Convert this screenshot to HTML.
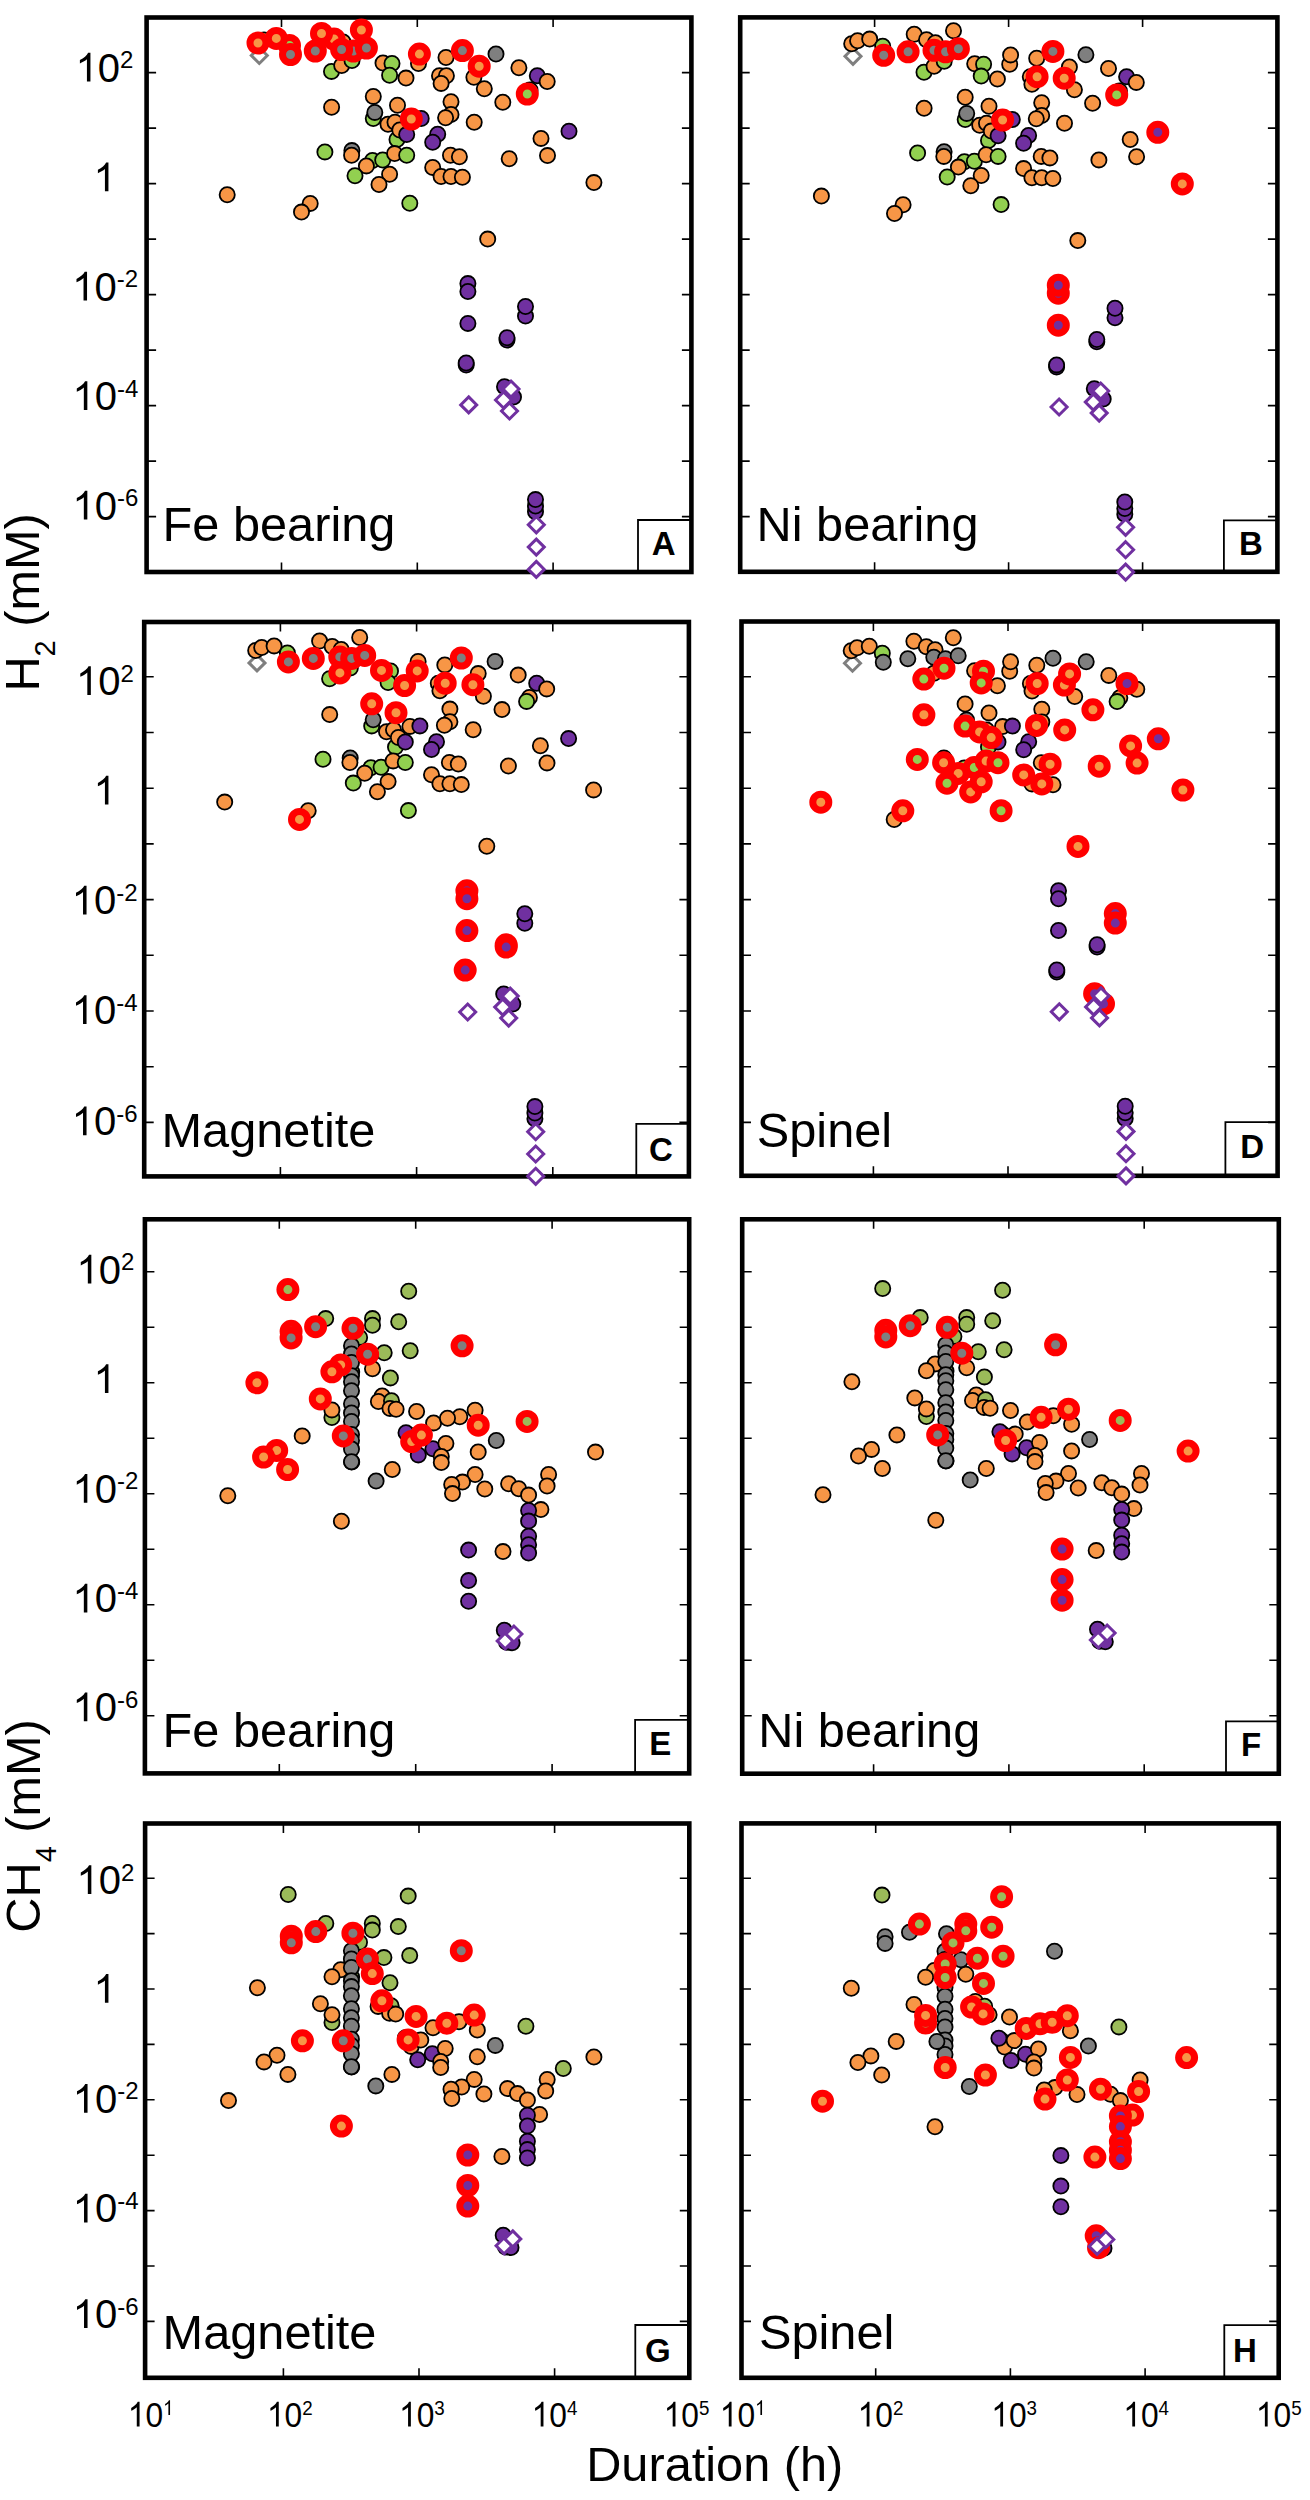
<!DOCTYPE html>
<html><head><meta charset="utf-8"><style>
html,body{margin:0;padding:0;background:#fff;}
svg{display:block;}
</style></head><body>
<svg width="1310" height="2500" viewBox="0 0 1310 2500" font-family='"Liberation Sans", sans-serif' fill="#000">
<rect width="1310" height="2500" fill="#fff"/>
<rect x="146.6" y="17.5" width="544.8" height="554.5" fill="none" stroke="#000" stroke-width="4.6"/>
<path d="M281.5 17.5v9.5M281.5 572.0v-9.5M417.3 17.5v9.5M417.3 572.0v-9.5M553.1 17.5v9.5M553.1 572.0v-9.5M146.6 516.6h9.5M691.4 516.6h-9.5M146.6 461.1h9.5M691.4 461.1h-9.5M146.6 405.6h9.5M691.4 405.6h-9.5M146.6 350.1h9.5M691.4 350.1h-9.5M146.6 294.6h9.5M691.4 294.6h-9.5M146.6 239.1h9.5M691.4 239.1h-9.5M146.6 183.6h9.5M691.4 183.6h-9.5M146.6 128.1h9.5M691.4 128.1h-9.5M146.6 72.6h9.5M691.4 72.6h-9.5" stroke="#000" stroke-width="1.6" fill="none"/>
<path d="M638.0 572.0V520.0H691.4" stroke="#000" stroke-width="1.8" fill="none"/>
<text x="663.7" y="555.3" font-size="33" font-weight="bold" text-anchor="middle">A</text>
<rect x="740.2" y="17.4" width="537.2" height="554.4" fill="none" stroke="#000" stroke-width="4.6"/>
<path d="M874.6 17.4v9.5M874.6 571.8v-9.5M1008.6 17.4v9.5M1008.6 571.8v-9.5M1142.6 17.4v9.5M1142.6 571.8v-9.5M740.2 516.6h9.5M1277.4 516.6h-9.5M740.2 461.1h9.5M1277.4 461.1h-9.5M740.2 405.6h9.5M1277.4 405.6h-9.5M740.2 350.1h9.5M1277.4 350.1h-9.5M740.2 294.6h9.5M1277.4 294.6h-9.5M740.2 239.1h9.5M1277.4 239.1h-9.5M740.2 183.6h9.5M1277.4 183.6h-9.5M740.2 128.1h9.5M1277.4 128.1h-9.5M740.2 72.6h9.5M1277.4 72.6h-9.5" stroke="#000" stroke-width="1.6" fill="none"/>
<path d="M1223.9 571.8V520.3H1277.4" stroke="#000" stroke-width="1.8" fill="none"/>
<text x="1251.0" y="555.0" font-size="33" font-weight="bold" text-anchor="middle">B</text>
<rect x="144.2" y="622.0" width="544.7" height="554.4" fill="none" stroke="#000" stroke-width="4.6"/>
<path d="M280.4 622.0v9.5M280.4 1176.4v-9.5M416.6 622.0v9.5M416.6 1176.4v-9.5M552.8 622.0v9.5M552.8 1176.4v-9.5M144.2 1122.4h9.5M688.9 1122.4h-9.5M144.2 1066.7h9.5M688.9 1066.7h-9.5M144.2 1011.0h9.5M688.9 1011.0h-9.5M144.2 955.3h9.5M688.9 955.3h-9.5M144.2 899.6h9.5M688.9 899.6h-9.5M144.2 843.9h9.5M688.9 843.9h-9.5M144.2 788.2h9.5M688.9 788.2h-9.5M144.2 732.5h9.5M688.9 732.5h-9.5M144.2 676.8h9.5M688.9 676.8h-9.5" stroke="#000" stroke-width="1.6" fill="none"/>
<path d="M636.3 1176.4V1123.9H688.9" stroke="#000" stroke-width="1.8" fill="none"/>
<text x="660.9" y="1160.5" font-size="33" font-weight="bold" text-anchor="middle">C</text>
<rect x="741.5" y="621.5" width="536.1" height="554.3" fill="none" stroke="#000" stroke-width="4.6"/>
<path d="M873.4 621.5v9.5M873.4 1175.8v-9.5M1008.0 621.5v9.5M1008.0 1175.8v-9.5M1142.6 621.5v9.5M1142.6 1175.8v-9.5M741.5 1122.4h9.5M1277.6 1122.4h-9.5M741.5 1066.7h9.5M1277.6 1066.7h-9.5M741.5 1011.0h9.5M1277.6 1011.0h-9.5M741.5 955.3h9.5M1277.6 955.3h-9.5M741.5 899.6h9.5M1277.6 899.6h-9.5M741.5 843.9h9.5M1277.6 843.9h-9.5M741.5 788.2h9.5M1277.6 788.2h-9.5M741.5 732.5h9.5M1277.6 732.5h-9.5M741.5 676.8h9.5M1277.6 676.8h-9.5" stroke="#000" stroke-width="1.6" fill="none"/>
<path d="M1225.4 1175.8V1122.1H1277.6" stroke="#000" stroke-width="1.8" fill="none"/>
<text x="1252.1" y="1157.7" font-size="33" font-weight="bold" text-anchor="middle">D</text>
<rect x="144.9" y="1219.3" width="544.3" height="554.1" fill="none" stroke="#000" stroke-width="4.6"/>
<path d="M279.3 1219.3v9.5M279.3 1773.4v-9.5M415.7 1219.3v9.5M415.7 1773.4v-9.5M552.1 1219.3v9.5M552.1 1773.4v-9.5M144.9 1715.8h9.5M689.2 1715.8h-9.5M144.9 1660.3h9.5M689.2 1660.3h-9.5M144.9 1604.8h9.5M689.2 1604.8h-9.5M144.9 1549.3h9.5M689.2 1549.3h-9.5M144.9 1493.8h9.5M689.2 1493.8h-9.5M144.9 1438.3h9.5M689.2 1438.3h-9.5M144.9 1382.8h9.5M689.2 1382.8h-9.5M144.9 1327.3h9.5M689.2 1327.3h-9.5M144.9 1271.8h9.5M689.2 1271.8h-9.5" stroke="#000" stroke-width="1.6" fill="none"/>
<path d="M635.1 1773.4V1719.8H689.2" stroke="#000" stroke-width="1.8" fill="none"/>
<text x="660.3" y="1755.0" font-size="33" font-weight="bold" text-anchor="middle">E</text>
<rect x="742.2" y="1219.3" width="536.6" height="554.4" fill="none" stroke="#000" stroke-width="4.6"/>
<path d="M873.6 1219.3v9.5M873.6 1773.7v-9.5M1008.9 1219.3v9.5M1008.9 1773.7v-9.5M1144.2 1219.3v9.5M1144.2 1773.7v-9.5M742.2 1715.8h9.5M1278.8 1715.8h-9.5M742.2 1660.3h9.5M1278.8 1660.3h-9.5M742.2 1604.8h9.5M1278.8 1604.8h-9.5M742.2 1549.3h9.5M1278.8 1549.3h-9.5M742.2 1493.8h9.5M1278.8 1493.8h-9.5M742.2 1438.3h9.5M1278.8 1438.3h-9.5M742.2 1382.8h9.5M1278.8 1382.8h-9.5M742.2 1327.3h9.5M1278.8 1327.3h-9.5M742.2 1271.8h9.5M1278.8 1271.8h-9.5" stroke="#000" stroke-width="1.6" fill="none"/>
<path d="M1226.0 1773.7V1721.4H1278.8" stroke="#000" stroke-width="1.8" fill="none"/>
<text x="1251.1" y="1755.9" font-size="33" font-weight="bold" text-anchor="middle">F</text>
<rect x="145.1" y="1823.5" width="544.2" height="554.3" fill="none" stroke="#000" stroke-width="4.6"/>
<path d="M283.4 1823.5v9.5M283.4 2377.8v-9.5M419.0 1823.5v9.5M419.0 2377.8v-9.5M554.6 1823.5v9.5M554.6 2377.8v-9.5M145.1 2321.4h9.5M689.3 2321.4h-9.5M145.1 2266.0h9.5M689.3 2266.0h-9.5M145.1 2210.6h9.5M689.3 2210.6h-9.5M145.1 2155.2h9.5M689.3 2155.2h-9.5M145.1 2099.8h9.5M689.3 2099.8h-9.5M145.1 2044.4h9.5M689.3 2044.4h-9.5M145.1 1989.0h9.5M689.3 1989.0h-9.5M145.1 1933.6h9.5M689.3 1933.6h-9.5M145.1 1878.2h9.5M689.3 1878.2h-9.5" stroke="#000" stroke-width="1.6" fill="none"/>
<path d="M635.3 2377.8V2325.0H689.3" stroke="#000" stroke-width="1.8" fill="none"/>
<text x="657.9" y="2362.2" font-size="33" font-weight="bold" text-anchor="middle">G</text>
<rect x="741.5" y="1823.4" width="537.2" height="554.4" fill="none" stroke="#000" stroke-width="4.6"/>
<path d="M875.7 1823.4v9.5M875.7 2377.8v-9.5M1010.4 1823.4v9.5M1010.4 2377.8v-9.5M1145.1 1823.4v9.5M1145.1 2377.8v-9.5M741.5 2321.4h9.5M1278.7 2321.4h-9.5M741.5 2266.0h9.5M1278.7 2266.0h-9.5M741.5 2210.6h9.5M1278.7 2210.6h-9.5M741.5 2155.2h9.5M1278.7 2155.2h-9.5M741.5 2099.8h9.5M1278.7 2099.8h-9.5M741.5 2044.4h9.5M1278.7 2044.4h-9.5M741.5 1989.0h9.5M1278.7 1989.0h-9.5M741.5 1933.6h9.5M1278.7 1933.6h-9.5M741.5 1878.2h9.5M1278.7 1878.2h-9.5" stroke="#000" stroke-width="1.6" fill="none"/>
<path d="M1224.3 2377.8V2325.1H1278.7" stroke="#000" stroke-width="1.8" fill="none"/>
<text x="1244.8" y="2361.7" font-size="33" font-weight="bold" text-anchor="middle">H</text>
<text x="162.6" y="541.3" font-size="48.7">Fe bearing</text>
<text x="756.6" y="540.9" font-size="48.7">Ni bearing</text>
<text x="161.5" y="1147.3" font-size="48.7">Magnetite</text>
<text x="756.8" y="1147.3" font-size="48.7">Spinel</text>
<text x="162.6" y="1746.6" font-size="48.7">Fe bearing</text>
<text x="758.3" y="1746.6" font-size="48.7">Ni bearing</text>
<text x="162.6" y="2348.8" font-size="48.7">Magnetite</text>
<text x="759.0" y="2348.8" font-size="48.7">Spinel</text>
<path transform="translate(75.54,81.60) scale(0.01953,-0.01953)" d="M763 0H583V1147Q518 1085 412 1023T223 930V1104Q373 1175 485 1276T645 1472H763Z"/>
<text transform="translate(97.79,81.60) scale(1.0,1)" font-size="40">0</text>
<text transform="translate(120.04,68.20) scale(1.0,1)" font-size="24">2</text>
<path transform="translate(93.54,191.30) scale(0.01953,-0.01953)" d="M763 0H583V1147Q518 1085 412 1023T223 930V1104Q373 1175 485 1276T645 1472H763Z"/>
<path transform="translate(72.14,300.50) scale(0.01953,-0.01953)" d="M763 0H583V1147Q518 1085 412 1023T223 930V1104Q373 1175 485 1276T645 1472H763Z"/>
<text transform="translate(94.39,300.50) scale(1.0,1)" font-size="40">0</text>
<text transform="translate(116.64,287.10) scale(1.0,1)" font-size="24">-2</text>
<path transform="translate(72.44,410.00) scale(0.01953,-0.01953)" d="M763 0H583V1147Q518 1085 412 1023T223 930V1104Q373 1175 485 1276T645 1472H763Z"/>
<text transform="translate(94.69,410.00) scale(1.0,1)" font-size="40">0</text>
<text transform="translate(116.94,396.60) scale(1.0,1)" font-size="24">-4</text>
<path transform="translate(72.44,519.60) scale(0.01953,-0.01953)" d="M763 0H583V1147Q518 1085 412 1023T223 930V1104Q373 1175 485 1276T645 1472H763Z"/>
<text transform="translate(94.69,519.60) scale(1.0,1)" font-size="40">0</text>
<text transform="translate(116.94,506.20) scale(1.0,1)" font-size="24">-6</text>
<path transform="translate(75.94,695.00) scale(0.01953,-0.01953)" d="M763 0H583V1147Q518 1085 412 1023T223 930V1104Q373 1175 485 1276T645 1472H763Z"/>
<text transform="translate(98.19,695.00) scale(1.0,1)" font-size="40">0</text>
<text transform="translate(120.44,681.60) scale(1.0,1)" font-size="24">2</text>
<path transform="translate(93.54,804.50) scale(0.01953,-0.01953)" d="M763 0H583V1147Q518 1085 412 1023T223 930V1104Q373 1175 485 1276T645 1472H763Z"/>
<path transform="translate(71.64,914.40) scale(0.01953,-0.01953)" d="M763 0H583V1147Q518 1085 412 1023T223 930V1104Q373 1175 485 1276T645 1472H763Z"/>
<text transform="translate(93.89,914.40) scale(1.0,1)" font-size="40">0</text>
<text transform="translate(116.14,901.00) scale(1.0,1)" font-size="24">-2</text>
<path transform="translate(71.64,1024.00) scale(0.01953,-0.01953)" d="M763 0H583V1147Q518 1085 412 1023T223 930V1104Q373 1175 485 1276T645 1472H763Z"/>
<text transform="translate(93.89,1024.00) scale(1.0,1)" font-size="40">0</text>
<text transform="translate(116.14,1010.60) scale(1.0,1)" font-size="24">-4</text>
<path transform="translate(71.64,1135.20) scale(0.01953,-0.01953)" d="M763 0H583V1147Q518 1085 412 1023T223 930V1104Q373 1175 485 1276T645 1472H763Z"/>
<text transform="translate(93.89,1135.20) scale(1.0,1)" font-size="40">0</text>
<text transform="translate(116.14,1121.80) scale(1.0,1)" font-size="24">-6</text>
<path transform="translate(76.44,1283.60) scale(0.01953,-0.01953)" d="M763 0H583V1147Q518 1085 412 1023T223 930V1104Q373 1175 485 1276T645 1472H763Z"/>
<text transform="translate(98.69,1283.60) scale(1.0,1)" font-size="40">0</text>
<text transform="translate(120.94,1270.20) scale(1.0,1)" font-size="24">2</text>
<path transform="translate(93.54,1392.90) scale(0.01953,-0.01953)" d="M763 0H583V1147Q518 1085 412 1023T223 930V1104Q373 1175 485 1276T645 1472H763Z"/>
<path transform="translate(72.44,1502.80) scale(0.01953,-0.01953)" d="M763 0H583V1147Q518 1085 412 1023T223 930V1104Q373 1175 485 1276T645 1472H763Z"/>
<text transform="translate(94.69,1502.80) scale(1.0,1)" font-size="40">0</text>
<text transform="translate(116.94,1489.40) scale(1.0,1)" font-size="24">-2</text>
<path transform="translate(72.44,1612.40) scale(0.01953,-0.01953)" d="M763 0H583V1147Q518 1085 412 1023T223 930V1104Q373 1175 485 1276T645 1472H763Z"/>
<text transform="translate(94.69,1612.40) scale(1.0,1)" font-size="40">0</text>
<text transform="translate(116.94,1599.00) scale(1.0,1)" font-size="24">-4</text>
<path transform="translate(72.44,1721.20) scale(0.01953,-0.01953)" d="M763 0H583V1147Q518 1085 412 1023T223 930V1104Q373 1175 485 1276T645 1472H763Z"/>
<text transform="translate(94.69,1721.20) scale(1.0,1)" font-size="40">0</text>
<text transform="translate(116.94,1707.80) scale(1.0,1)" font-size="24">-6</text>
<path transform="translate(76.44,1894.00) scale(0.01953,-0.01953)" d="M763 0H583V1147Q518 1085 412 1023T223 930V1104Q373 1175 485 1276T645 1472H763Z"/>
<text transform="translate(98.69,1894.00) scale(1.0,1)" font-size="40">0</text>
<text transform="translate(120.94,1880.60) scale(1.0,1)" font-size="24">2</text>
<path transform="translate(93.54,2002.80) scale(0.01953,-0.01953)" d="M763 0H583V1147Q518 1085 412 1023T223 930V1104Q373 1175 485 1276T645 1472H763Z"/>
<path transform="translate(72.64,2112.80) scale(0.01953,-0.01953)" d="M763 0H583V1147Q518 1085 412 1023T223 930V1104Q373 1175 485 1276T645 1472H763Z"/>
<text transform="translate(94.89,2112.80) scale(1.0,1)" font-size="40">0</text>
<text transform="translate(117.14,2099.40) scale(1.0,1)" font-size="24">-2</text>
<path transform="translate(72.64,2222.40) scale(0.01953,-0.01953)" d="M763 0H583V1147Q518 1085 412 1023T223 930V1104Q373 1175 485 1276T645 1472H763Z"/>
<text transform="translate(94.89,2222.40) scale(1.0,1)" font-size="40">0</text>
<text transform="translate(117.14,2209.00) scale(1.0,1)" font-size="24">-4</text>
<path transform="translate(72.64,2328.10) scale(0.01953,-0.01953)" d="M763 0H583V1147Q518 1085 412 1023T223 930V1104Q373 1175 485 1276T645 1472H763Z"/>
<text transform="translate(94.89,2328.10) scale(1.0,1)" font-size="40">0</text>
<text transform="translate(117.14,2314.70) scale(1.0,1)" font-size="24">-6</text>
<path transform="translate(127.74,2426.60) scale(0.01550,-0.01694)" d="M763 0H583V1147Q518 1085 412 1023T223 930V1104Q373 1175 485 1276T645 1472H763Z"/>
<text transform="translate(145.40,2426.60) scale(0.915,1)" font-size="34.7">0</text>
<path transform="translate(163.06,2415.00) scale(0.00916,-0.01001)" d="M763 0H583V1147Q518 1085 412 1023T223 930V1104Q373 1175 485 1276T645 1472H763Z"/>
<path transform="translate(266.94,2426.60) scale(0.01550,-0.01694)" d="M763 0H583V1147Q518 1085 412 1023T223 930V1104Q373 1175 485 1276T645 1472H763Z"/>
<text transform="translate(284.60,2426.60) scale(0.915,1)" font-size="34.7">0</text>
<text transform="translate(302.26,2415.00) scale(0.915,1)" font-size="20.5">2</text>
<path transform="translate(399.04,2426.60) scale(0.01550,-0.01694)" d="M763 0H583V1147Q518 1085 412 1023T223 930V1104Q373 1175 485 1276T645 1472H763Z"/>
<text transform="translate(416.70,2426.60) scale(0.915,1)" font-size="34.7">0</text>
<text transform="translate(434.36,2415.00) scale(0.915,1)" font-size="20.5">3</text>
<path transform="translate(531.64,2426.60) scale(0.01550,-0.01694)" d="M763 0H583V1147Q518 1085 412 1023T223 930V1104Q373 1175 485 1276T645 1472H763Z"/>
<text transform="translate(549.30,2426.60) scale(0.915,1)" font-size="34.7">0</text>
<text transform="translate(566.96,2415.00) scale(0.915,1)" font-size="20.5">4</text>
<path transform="translate(663.64,2426.60) scale(0.01550,-0.01694)" d="M763 0H583V1147Q518 1085 412 1023T223 930V1104Q373 1175 485 1276T645 1472H763Z"/>
<text transform="translate(681.30,2426.60) scale(0.915,1)" font-size="34.7">0</text>
<text transform="translate(698.96,2415.00) scale(0.915,1)" font-size="20.5">5</text>
<path transform="translate(719.74,2426.60) scale(0.01550,-0.01694)" d="M763 0H583V1147Q518 1085 412 1023T223 930V1104Q373 1175 485 1276T645 1472H763Z"/>
<text transform="translate(737.40,2426.60) scale(0.915,1)" font-size="34.7">0</text>
<path transform="translate(755.06,2415.00) scale(0.00916,-0.01001)" d="M763 0H583V1147Q518 1085 412 1023T223 930V1104Q373 1175 485 1276T645 1472H763Z"/>
<path transform="translate(857.64,2426.60) scale(0.01550,-0.01694)" d="M763 0H583V1147Q518 1085 412 1023T223 930V1104Q373 1175 485 1276T645 1472H763Z"/>
<text transform="translate(875.30,2426.60) scale(0.915,1)" font-size="34.7">0</text>
<text transform="translate(892.96,2415.00) scale(0.915,1)" font-size="20.5">2</text>
<path transform="translate(991.24,2426.60) scale(0.01550,-0.01694)" d="M763 0H583V1147Q518 1085 412 1023T223 930V1104Q373 1175 485 1276T645 1472H763Z"/>
<text transform="translate(1008.90,2426.60) scale(0.915,1)" font-size="34.7">0</text>
<text transform="translate(1026.56,2415.00) scale(0.915,1)" font-size="20.5">3</text>
<path transform="translate(1123.24,2426.60) scale(0.01550,-0.01694)" d="M763 0H583V1147Q518 1085 412 1023T223 930V1104Q373 1175 485 1276T645 1472H763Z"/>
<text transform="translate(1140.90,2426.60) scale(0.915,1)" font-size="34.7">0</text>
<text transform="translate(1158.56,2415.00) scale(0.915,1)" font-size="20.5">4</text>
<path transform="translate(1255.84,2426.60) scale(0.01550,-0.01694)" d="M763 0H583V1147Q518 1085 412 1023T223 930V1104Q373 1175 485 1276T645 1472H763Z"/>
<text transform="translate(1273.50,2426.60) scale(0.915,1)" font-size="34.7">0</text>
<text transform="translate(1291.16,2415.00) scale(0.915,1)" font-size="20.5">5</text>
<text transform="translate(39.4,691.6) rotate(-90)" font-size="48.7">H<tspan font-size="29" dy="16">2</tspan><tspan dy="-16"> (mM)</tspan></text>
<text transform="translate(39.5,1932.7) rotate(-90)" font-size="48.7">CH<tspan font-size="29" dy="16">4</tspan><tspan dy="-16"> (mM)</tspan></text>
<text x="586.2" y="2480.9" font-size="48.7">Duration (h)</text>
<path d="M259.3 47.5L267.3 55.5L259.3 63.5L251.3 55.5Z" fill="#fff" stroke="#7F7F7F" stroke-width="3.0"/>
<circle cx="258.0" cy="43.0" r="7.6" fill="#F79646" stroke="#000" stroke-width="1.8"/>
<circle cx="264.0" cy="40.0" r="7.6" fill="#F79646" stroke="#000" stroke-width="1.8"/>
<circle cx="276.3" cy="38.4" r="7.6" fill="#F79646" stroke="#000" stroke-width="1.8"/>
<circle cx="289.5" cy="45.5" r="7.6" fill="#92D050" stroke="#000" stroke-width="1.8"/>
<circle cx="290.5" cy="54.5" r="7.6" fill="#7F7F7F" stroke="#000" stroke-width="1.8"/>
<circle cx="321.5" cy="33.5" r="7.6" fill="#F79646" stroke="#000" stroke-width="1.8"/>
<circle cx="334.0" cy="39.0" r="7.6" fill="#F79646" stroke="#000" stroke-width="1.8"/>
<circle cx="343.0" cy="42.0" r="7.6" fill="#F79646" stroke="#000" stroke-width="1.8"/>
<circle cx="315.3" cy="51.0" r="7.6" fill="#7F7F7F" stroke="#000" stroke-width="1.8"/>
<circle cx="341.6" cy="49.5" r="7.6" fill="#7F7F7F" stroke="#000" stroke-width="1.8"/>
<circle cx="353.4" cy="51.0" r="7.6" fill="#7F7F7F" stroke="#000" stroke-width="1.8"/>
<circle cx="366.4" cy="48.0" r="7.6" fill="#7F7F7F" stroke="#000" stroke-width="1.8"/>
<circle cx="361.4" cy="30.0" r="7.6" fill="#F79646" stroke="#000" stroke-width="1.8"/>
<circle cx="331.5" cy="71.4" r="7.6" fill="#92D050" stroke="#000" stroke-width="1.8"/>
<circle cx="341.7" cy="65.5" r="7.6" fill="#F79646" stroke="#000" stroke-width="1.8"/>
<circle cx="383.0" cy="63.0" r="7.6" fill="#F79646" stroke="#000" stroke-width="1.8"/>
<circle cx="392.0" cy="63.5" r="7.6" fill="#92D050" stroke="#000" stroke-width="1.8"/>
<circle cx="389.6" cy="75.2" r="7.6" fill="#92D050" stroke="#000" stroke-width="1.8"/>
<circle cx="373.3" cy="96.4" r="7.6" fill="#F79646" stroke="#000" stroke-width="1.8"/>
<circle cx="331.6" cy="107.2" r="7.6" fill="#F79646" stroke="#000" stroke-width="1.8"/>
<circle cx="397.5" cy="105.3" r="7.6" fill="#F79646" stroke="#000" stroke-width="1.8"/>
<circle cx="373.3" cy="118.5" r="7.6" fill="#92D050" stroke="#000" stroke-width="1.8"/>
<circle cx="374.8" cy="112.4" r="7.6" fill="#7F7F7F" stroke="#000" stroke-width="1.8"/>
<circle cx="388.0" cy="124.3" r="7.6" fill="#F79646" stroke="#000" stroke-width="1.8"/>
<circle cx="395.0" cy="122.3" r="7.6" fill="#F79646" stroke="#000" stroke-width="1.8"/>
<circle cx="397.0" cy="139.5" r="7.6" fill="#92D050" stroke="#000" stroke-width="1.8"/>
<circle cx="324.9" cy="151.9" r="7.6" fill="#92D050" stroke="#000" stroke-width="1.8"/>
<circle cx="351.9" cy="150.6" r="7.6" fill="#7F7F7F" stroke="#000" stroke-width="1.8"/>
<circle cx="351.6" cy="155.2" r="7.6" fill="#F79646" stroke="#000" stroke-width="1.8"/>
<circle cx="372.5" cy="160.5" r="7.6" fill="#92D050" stroke="#000" stroke-width="1.8"/>
<circle cx="382.7" cy="160.0" r="7.6" fill="#92D050" stroke="#000" stroke-width="1.8"/>
<circle cx="366.4" cy="165.9" r="7.6" fill="#F79646" stroke="#000" stroke-width="1.8"/>
<circle cx="394.6" cy="153.6" r="7.6" fill="#F79646" stroke="#000" stroke-width="1.8"/>
<circle cx="355.0" cy="175.8" r="7.6" fill="#92D050" stroke="#000" stroke-width="1.8"/>
<circle cx="389.6" cy="174.3" r="7.6" fill="#F79646" stroke="#000" stroke-width="1.8"/>
<circle cx="379.0" cy="184.5" r="7.6" fill="#F79646" stroke="#000" stroke-width="1.8"/>
<circle cx="227.2" cy="194.8" r="7.6" fill="#F79646" stroke="#000" stroke-width="1.8"/>
<circle cx="310.2" cy="203.4" r="7.6" fill="#F79646" stroke="#000" stroke-width="1.8"/>
<circle cx="301.5" cy="212.1" r="7.6" fill="#F79646" stroke="#000" stroke-width="1.8"/>
<circle cx="418.5" cy="63.5" r="7.6" fill="#F79646" stroke="#000" stroke-width="1.8"/>
<circle cx="419.4" cy="54.1" r="7.6" fill="#F79646" stroke="#000" stroke-width="1.8"/>
<circle cx="462.4" cy="50.6" r="7.6" fill="#7F7F7F" stroke="#000" stroke-width="1.8"/>
<circle cx="473.9" cy="77.3" r="7.6" fill="#F79646" stroke="#000" stroke-width="1.8"/>
<circle cx="479.2" cy="66.2" r="7.6" fill="#F79646" stroke="#000" stroke-width="1.8"/>
<circle cx="530.0" cy="90.0" r="7.6" fill="#F79646" stroke="#000" stroke-width="1.8"/>
<circle cx="527.3" cy="94.0" r="7.6" fill="#92D050" stroke="#000" stroke-width="1.8"/>
<circle cx="411.3" cy="119.0" r="7.6" fill="#F79646" stroke="#000" stroke-width="1.8"/>
<circle cx="421.2" cy="118.5" r="7.6" fill="#7030A0" stroke="#000" stroke-width="1.8"/>
<circle cx="352.0" cy="60.5" r="7.6" fill="#92D050" stroke="#000" stroke-width="1.8"/>
<circle cx="406.0" cy="78.1" r="7.6" fill="#F79646" stroke="#000" stroke-width="1.8"/>
<circle cx="446.0" cy="57.5" r="7.6" fill="#F79646" stroke="#000" stroke-width="1.8"/>
<circle cx="496.0" cy="54.0" r="7.6" fill="#7F7F7F" stroke="#000" stroke-width="1.8"/>
<circle cx="439.5" cy="75.8" r="7.6" fill="#F79646" stroke="#000" stroke-width="1.8"/>
<circle cx="446.4" cy="75.8" r="7.6" fill="#F79646" stroke="#000" stroke-width="1.8"/>
<circle cx="441.1" cy="83.4" r="7.6" fill="#F79646" stroke="#000" stroke-width="1.8"/>
<circle cx="484.3" cy="88.8" r="7.6" fill="#F79646" stroke="#000" stroke-width="1.8"/>
<circle cx="518.9" cy="67.7" r="7.6" fill="#F79646" stroke="#000" stroke-width="1.8"/>
<circle cx="537.3" cy="75.8" r="7.6" fill="#7030A0" stroke="#000" stroke-width="1.8"/>
<circle cx="547.2" cy="81.5" r="7.6" fill="#F79646" stroke="#000" stroke-width="1.8"/>
<circle cx="451.0" cy="101.7" r="7.6" fill="#F79646" stroke="#000" stroke-width="1.8"/>
<circle cx="451.0" cy="114.4" r="7.6" fill="#F79646" stroke="#000" stroke-width="1.8"/>
<circle cx="445.6" cy="117.8" r="7.6" fill="#F79646" stroke="#000" stroke-width="1.8"/>
<circle cx="502.8" cy="102.2" r="7.6" fill="#F79646" stroke="#000" stroke-width="1.8"/>
<circle cx="474.2" cy="122.3" r="7.6" fill="#F79646" stroke="#000" stroke-width="1.8"/>
<circle cx="399.8" cy="130.0" r="7.6" fill="#F79646" stroke="#000" stroke-width="1.8"/>
<circle cx="406.7" cy="134.6" r="7.6" fill="#7030A0" stroke="#000" stroke-width="1.8"/>
<circle cx="437.7" cy="134.3" r="7.6" fill="#7030A0" stroke="#000" stroke-width="1.8"/>
<circle cx="432.7" cy="142.2" r="7.6" fill="#7030A0" stroke="#000" stroke-width="1.8"/>
<circle cx="406.7" cy="155.2" r="7.6" fill="#92D050" stroke="#000" stroke-width="1.8"/>
<circle cx="450.5" cy="155.2" r="7.6" fill="#F79646" stroke="#000" stroke-width="1.8"/>
<circle cx="459.4" cy="156.7" r="7.6" fill="#F79646" stroke="#000" stroke-width="1.8"/>
<circle cx="432.7" cy="167.4" r="7.6" fill="#F79646" stroke="#000" stroke-width="1.8"/>
<circle cx="441.1" cy="176.5" r="7.6" fill="#F79646" stroke="#000" stroke-width="1.8"/>
<circle cx="451.0" cy="176.5" r="7.6" fill="#F79646" stroke="#000" stroke-width="1.8"/>
<circle cx="462.4" cy="177.3" r="7.6" fill="#F79646" stroke="#000" stroke-width="1.8"/>
<circle cx="409.8" cy="203.3" r="7.6" fill="#92D050" stroke="#000" stroke-width="1.8"/>
<circle cx="509.2" cy="158.7" r="7.6" fill="#F79646" stroke="#000" stroke-width="1.8"/>
<circle cx="541.0" cy="138.4" r="7.6" fill="#F79646" stroke="#000" stroke-width="1.8"/>
<circle cx="547.5" cy="155.6" r="7.6" fill="#F79646" stroke="#000" stroke-width="1.8"/>
<circle cx="569.0" cy="131.2" r="7.6" fill="#7030A0" stroke="#000" stroke-width="1.8"/>
<circle cx="593.9" cy="182.6" r="7.6" fill="#F79646" stroke="#000" stroke-width="1.8"/>
<circle cx="487.7" cy="239.1" r="7.6" fill="#F79646" stroke="#000" stroke-width="1.8"/>
<circle cx="467.9" cy="283.6" r="7.6" fill="#7030A0" stroke="#000" stroke-width="1.8"/>
<circle cx="467.9" cy="291.5" r="7.6" fill="#7030A0" stroke="#000" stroke-width="1.8"/>
<circle cx="525.5" cy="316.0" r="7.6" fill="#7030A0" stroke="#000" stroke-width="1.8"/>
<circle cx="525.5" cy="306.5" r="7.6" fill="#7030A0" stroke="#000" stroke-width="1.8"/>
<circle cx="467.9" cy="323.4" r="7.6" fill="#7030A0" stroke="#000" stroke-width="1.8"/>
<circle cx="507.0" cy="340.0" r="7.6" fill="#7030A0" stroke="#000" stroke-width="1.8"/>
<circle cx="507.0" cy="337.7" r="7.6" fill="#7030A0" stroke="#000" stroke-width="1.8"/>
<circle cx="466.2" cy="365.0" r="7.6" fill="#7030A0" stroke="#000" stroke-width="1.8"/>
<circle cx="466.2" cy="363.0" r="7.6" fill="#7030A0" stroke="#000" stroke-width="1.8"/>
<circle cx="504.5" cy="386.8" r="7.6" fill="#7030A0" stroke="#000" stroke-width="1.8"/>
<circle cx="513.5" cy="397.0" r="7.6" fill="#7030A0" stroke="#000" stroke-width="1.8"/>
<circle cx="535.5" cy="511.8" r="7.6" fill="#7030A0" stroke="#000" stroke-width="1.8"/>
<circle cx="535.5" cy="506.0" r="7.6" fill="#7030A0" stroke="#000" stroke-width="1.8"/>
<circle cx="535.5" cy="499.6" r="7.6" fill="#7030A0" stroke="#000" stroke-width="1.8"/>
<circle cx="289.5" cy="45.5" r="8.0" fill="#92D050" stroke="#FF0000" stroke-width="7.0"/>
<circle cx="258.0" cy="43.0" r="8.0" fill="#F79646" stroke="#FF0000" stroke-width="7.0"/>
<circle cx="276.3" cy="38.4" r="8.0" fill="#F79646" stroke="#FF0000" stroke-width="7.0"/>
<circle cx="290.5" cy="54.5" r="8.0" fill="#7F7F7F" stroke="#FF0000" stroke-width="7.0"/>
<circle cx="334.0" cy="39.0" r="8.0" fill="#F79646" stroke="#FF0000" stroke-width="7.0"/>
<circle cx="353.4" cy="51.0" r="8.0" fill="#7F7F7F" stroke="#FF0000" stroke-width="7.0"/>
<circle cx="321.5" cy="33.5" r="8.0" fill="#F79646" stroke="#FF0000" stroke-width="7.0"/>
<circle cx="315.3" cy="51.0" r="8.0" fill="#7F7F7F" stroke="#FF0000" stroke-width="7.0"/>
<circle cx="341.6" cy="49.5" r="8.0" fill="#7F7F7F" stroke="#FF0000" stroke-width="7.0"/>
<circle cx="361.4" cy="30.0" r="8.0" fill="#F79646" stroke="#FF0000" stroke-width="7.0"/>
<circle cx="366.4" cy="48.0" r="8.0" fill="#7F7F7F" stroke="#FF0000" stroke-width="7.0"/>
<circle cx="419.4" cy="54.1" r="8.0" fill="#F79646" stroke="#FF0000" stroke-width="7.0"/>
<circle cx="462.4" cy="50.6" r="8.0" fill="#7F7F7F" stroke="#FF0000" stroke-width="7.0"/>
<circle cx="479.2" cy="66.2" r="8.0" fill="#F79646" stroke="#FF0000" stroke-width="7.0"/>
<circle cx="527.3" cy="94.0" r="8.0" fill="#92D050" stroke="#FF0000" stroke-width="7.0"/>
<circle cx="411.3" cy="119.0" r="8.0" fill="#F79646" stroke="#FF0000" stroke-width="7.0"/>
<path d="M468.7 396.9L476.7 404.9L468.7 412.9L460.7 404.9Z" fill="#fff" stroke="#7030A0" stroke-width="3.0"/>
<path d="M511.0 381.0L519.0 389.0L511.0 397.0L503.0 389.0Z" fill="#fff" stroke="#7030A0" stroke-width="3.0"/>
<path d="M503.5 392.0L511.5 400.0L503.5 408.0L495.5 400.0Z" fill="#fff" stroke="#7030A0" stroke-width="3.0"/>
<path d="M509.5 403.0L517.5 411.0L509.5 419.0L501.5 411.0Z" fill="#fff" stroke="#7030A0" stroke-width="3.0"/>
<path d="M536.3 516.8L544.3 524.8L536.3 532.8L528.3 524.8Z" fill="#fff" stroke="#7030A0" stroke-width="3.0"/>
<path d="M536.3 539.1L544.3 547.1L536.3 555.1L528.3 547.1Z" fill="#fff" stroke="#7030A0" stroke-width="3.0"/>
<path d="M536.3 561.4L544.3 569.4L536.3 577.4L528.3 569.4Z" fill="#fff" stroke="#7030A0" stroke-width="3.0"/>
<path d="M853.0 48.3L861.0 56.3L853.0 64.3L845.0 56.3Z" fill="#fff" stroke="#7F7F7F" stroke-width="3.0"/>
<circle cx="851.7" cy="43.7" r="7.6" fill="#F79646" stroke="#000" stroke-width="1.8"/>
<circle cx="857.6" cy="40.7" r="7.6" fill="#F79646" stroke="#000" stroke-width="1.8"/>
<circle cx="869.7" cy="39.1" r="7.6" fill="#F79646" stroke="#000" stroke-width="1.8"/>
<circle cx="882.7" cy="46.2" r="7.6" fill="#92D050" stroke="#000" stroke-width="1.8"/>
<circle cx="883.7" cy="55.3" r="7.6" fill="#7F7F7F" stroke="#000" stroke-width="1.8"/>
<circle cx="914.2" cy="34.2" r="7.6" fill="#F79646" stroke="#000" stroke-width="1.8"/>
<circle cx="926.5" cy="39.7" r="7.6" fill="#F79646" stroke="#000" stroke-width="1.8"/>
<circle cx="935.4" cy="42.7" r="7.6" fill="#F79646" stroke="#000" stroke-width="1.8"/>
<circle cx="908.1" cy="51.8" r="7.6" fill="#7F7F7F" stroke="#000" stroke-width="1.8"/>
<circle cx="934.0" cy="50.3" r="7.6" fill="#7F7F7F" stroke="#000" stroke-width="1.8"/>
<circle cx="945.6" cy="51.8" r="7.6" fill="#7F7F7F" stroke="#000" stroke-width="1.8"/>
<circle cx="958.4" cy="48.7" r="7.6" fill="#7F7F7F" stroke="#000" stroke-width="1.8"/>
<circle cx="953.5" cy="30.7" r="7.6" fill="#F79646" stroke="#000" stroke-width="1.8"/>
<circle cx="924.0" cy="72.2" r="7.6" fill="#92D050" stroke="#000" stroke-width="1.8"/>
<circle cx="934.1" cy="66.3" r="7.6" fill="#F79646" stroke="#000" stroke-width="1.8"/>
<circle cx="974.7" cy="63.8" r="7.6" fill="#F79646" stroke="#000" stroke-width="1.8"/>
<circle cx="983.6" cy="64.3" r="7.6" fill="#92D050" stroke="#000" stroke-width="1.8"/>
<circle cx="981.2" cy="76.1" r="7.6" fill="#92D050" stroke="#000" stroke-width="1.8"/>
<circle cx="965.2" cy="97.3" r="7.6" fill="#F79646" stroke="#000" stroke-width="1.8"/>
<circle cx="924.1" cy="108.2" r="7.6" fill="#F79646" stroke="#000" stroke-width="1.8"/>
<circle cx="989.0" cy="106.3" r="7.6" fill="#F79646" stroke="#000" stroke-width="1.8"/>
<circle cx="965.2" cy="119.5" r="7.6" fill="#92D050" stroke="#000" stroke-width="1.8"/>
<circle cx="966.7" cy="113.4" r="7.6" fill="#7F7F7F" stroke="#000" stroke-width="1.8"/>
<circle cx="979.7" cy="125.3" r="7.6" fill="#F79646" stroke="#000" stroke-width="1.8"/>
<circle cx="986.5" cy="123.3" r="7.6" fill="#F79646" stroke="#000" stroke-width="1.8"/>
<circle cx="988.5" cy="140.6" r="7.6" fill="#92D050" stroke="#000" stroke-width="1.8"/>
<circle cx="917.6" cy="153.0" r="7.6" fill="#92D050" stroke="#000" stroke-width="1.8"/>
<circle cx="944.1" cy="151.7" r="7.6" fill="#7F7F7F" stroke="#000" stroke-width="1.8"/>
<circle cx="943.8" cy="156.4" r="7.6" fill="#F79646" stroke="#000" stroke-width="1.8"/>
<circle cx="964.4" cy="161.7" r="7.6" fill="#92D050" stroke="#000" stroke-width="1.8"/>
<circle cx="974.4" cy="161.2" r="7.6" fill="#92D050" stroke="#000" stroke-width="1.8"/>
<circle cx="958.4" cy="167.1" r="7.6" fill="#F79646" stroke="#000" stroke-width="1.8"/>
<circle cx="986.1" cy="154.7" r="7.6" fill="#F79646" stroke="#000" stroke-width="1.8"/>
<circle cx="947.2" cy="177.0" r="7.6" fill="#92D050" stroke="#000" stroke-width="1.8"/>
<circle cx="981.2" cy="175.5" r="7.6" fill="#F79646" stroke="#000" stroke-width="1.8"/>
<circle cx="970.8" cy="185.8" r="7.6" fill="#F79646" stroke="#000" stroke-width="1.8"/>
<circle cx="821.4" cy="196.1" r="7.6" fill="#F79646" stroke="#000" stroke-width="1.8"/>
<circle cx="903.1" cy="204.7" r="7.6" fill="#F79646" stroke="#000" stroke-width="1.8"/>
<circle cx="894.5" cy="213.5" r="7.6" fill="#F79646" stroke="#000" stroke-width="1.8"/>
<circle cx="1009.7" cy="64.3" r="7.6" fill="#F79646" stroke="#000" stroke-width="1.8"/>
<circle cx="1010.6" cy="54.9" r="7.6" fill="#F79646" stroke="#000" stroke-width="1.8"/>
<circle cx="1052.9" cy="51.4" r="7.6" fill="#7F7F7F" stroke="#000" stroke-width="1.8"/>
<circle cx="1064.2" cy="78.2" r="7.6" fill="#F79646" stroke="#000" stroke-width="1.8"/>
<circle cx="1069.4" cy="67.0" r="7.6" fill="#F79646" stroke="#000" stroke-width="1.8"/>
<circle cx="1119.4" cy="90.9" r="7.6" fill="#F79646" stroke="#000" stroke-width="1.8"/>
<circle cx="1116.7" cy="94.9" r="7.6" fill="#92D050" stroke="#000" stroke-width="1.8"/>
<circle cx="1002.6" cy="120.0" r="7.6" fill="#F79646" stroke="#000" stroke-width="1.8"/>
<circle cx="1012.3" cy="119.5" r="7.6" fill="#7030A0" stroke="#000" stroke-width="1.8"/>
<circle cx="944.2" cy="61.3" r="7.6" fill="#92D050" stroke="#000" stroke-width="1.8"/>
<circle cx="997.4" cy="79.0" r="7.6" fill="#F79646" stroke="#000" stroke-width="1.8"/>
<circle cx="1036.7" cy="58.3" r="7.6" fill="#F79646" stroke="#000" stroke-width="1.8"/>
<circle cx="1085.9" cy="54.8" r="7.6" fill="#7F7F7F" stroke="#000" stroke-width="1.8"/>
<circle cx="1030.3" cy="76.7" r="7.6" fill="#F79646" stroke="#000" stroke-width="1.8"/>
<circle cx="1037.1" cy="76.7" r="7.6" fill="#F79646" stroke="#000" stroke-width="1.8"/>
<circle cx="1031.9" cy="84.3" r="7.6" fill="#F79646" stroke="#000" stroke-width="1.8"/>
<circle cx="1074.4" cy="89.7" r="7.6" fill="#F79646" stroke="#000" stroke-width="1.8"/>
<circle cx="1108.5" cy="68.5" r="7.6" fill="#F79646" stroke="#000" stroke-width="1.8"/>
<circle cx="1126.6" cy="76.7" r="7.6" fill="#7030A0" stroke="#000" stroke-width="1.8"/>
<circle cx="1136.3" cy="82.4" r="7.6" fill="#F79646" stroke="#000" stroke-width="1.8"/>
<circle cx="1041.7" cy="102.7" r="7.6" fill="#F79646" stroke="#000" stroke-width="1.8"/>
<circle cx="1041.7" cy="115.4" r="7.6" fill="#F79646" stroke="#000" stroke-width="1.8"/>
<circle cx="1036.3" cy="118.8" r="7.6" fill="#F79646" stroke="#000" stroke-width="1.8"/>
<circle cx="1092.6" cy="103.2" r="7.6" fill="#F79646" stroke="#000" stroke-width="1.8"/>
<circle cx="1064.5" cy="123.3" r="7.6" fill="#F79646" stroke="#000" stroke-width="1.8"/>
<circle cx="991.3" cy="131.1" r="7.6" fill="#F79646" stroke="#000" stroke-width="1.8"/>
<circle cx="998.1" cy="135.7" r="7.6" fill="#7030A0" stroke="#000" stroke-width="1.8"/>
<circle cx="1028.6" cy="135.4" r="7.6" fill="#7030A0" stroke="#000" stroke-width="1.8"/>
<circle cx="1023.6" cy="143.3" r="7.6" fill="#7030A0" stroke="#000" stroke-width="1.8"/>
<circle cx="998.1" cy="156.4" r="7.6" fill="#92D050" stroke="#000" stroke-width="1.8"/>
<circle cx="1041.2" cy="156.4" r="7.6" fill="#F79646" stroke="#000" stroke-width="1.8"/>
<circle cx="1049.9" cy="157.9" r="7.6" fill="#F79646" stroke="#000" stroke-width="1.8"/>
<circle cx="1023.6" cy="168.6" r="7.6" fill="#F79646" stroke="#000" stroke-width="1.8"/>
<circle cx="1031.9" cy="177.7" r="7.6" fill="#F79646" stroke="#000" stroke-width="1.8"/>
<circle cx="1041.7" cy="177.7" r="7.6" fill="#F79646" stroke="#000" stroke-width="1.8"/>
<circle cx="1052.9" cy="178.5" r="7.6" fill="#F79646" stroke="#000" stroke-width="1.8"/>
<circle cx="1001.1" cy="204.6" r="7.6" fill="#92D050" stroke="#000" stroke-width="1.8"/>
<circle cx="1098.9" cy="159.9" r="7.6" fill="#F79646" stroke="#000" stroke-width="1.8"/>
<circle cx="1130.2" cy="139.5" r="7.6" fill="#F79646" stroke="#000" stroke-width="1.8"/>
<circle cx="1136.6" cy="156.8" r="7.6" fill="#F79646" stroke="#000" stroke-width="1.8"/>
<circle cx="1157.8" cy="132.3" r="7.6" fill="#7030A0" stroke="#000" stroke-width="1.8"/>
<circle cx="1182.3" cy="183.9" r="7.6" fill="#F79646" stroke="#000" stroke-width="1.8"/>
<circle cx="1077.8" cy="240.6" r="7.6" fill="#F79646" stroke="#000" stroke-width="1.8"/>
<circle cx="1058.3" cy="285.2" r="7.6" fill="#7030A0" stroke="#000" stroke-width="1.8"/>
<circle cx="1058.3" cy="293.2" r="7.6" fill="#7030A0" stroke="#000" stroke-width="1.8"/>
<circle cx="1115.0" cy="317.8" r="7.6" fill="#7030A0" stroke="#000" stroke-width="1.8"/>
<circle cx="1115.0" cy="308.2" r="7.6" fill="#7030A0" stroke="#000" stroke-width="1.8"/>
<circle cx="1058.3" cy="325.2" r="7.6" fill="#7030A0" stroke="#000" stroke-width="1.8"/>
<circle cx="1096.8" cy="341.8" r="7.6" fill="#7030A0" stroke="#000" stroke-width="1.8"/>
<circle cx="1096.8" cy="339.5" r="7.6" fill="#7030A0" stroke="#000" stroke-width="1.8"/>
<circle cx="1056.6" cy="366.9" r="7.6" fill="#7030A0" stroke="#000" stroke-width="1.8"/>
<circle cx="1056.6" cy="364.9" r="7.6" fill="#7030A0" stroke="#000" stroke-width="1.8"/>
<circle cx="1094.3" cy="388.8" r="7.6" fill="#7030A0" stroke="#000" stroke-width="1.8"/>
<circle cx="1103.2" cy="399.1" r="7.6" fill="#7030A0" stroke="#000" stroke-width="1.8"/>
<circle cx="1124.8" cy="514.3" r="7.6" fill="#7030A0" stroke="#000" stroke-width="1.8"/>
<circle cx="1124.8" cy="508.5" r="7.6" fill="#7030A0" stroke="#000" stroke-width="1.8"/>
<circle cx="1124.8" cy="502.0" r="7.6" fill="#7030A0" stroke="#000" stroke-width="1.8"/>
<circle cx="883.7" cy="55.3" r="8.0" fill="#7F7F7F" stroke="#FF0000" stroke-width="7.0"/>
<circle cx="908.1" cy="51.8" r="8.0" fill="#7F7F7F" stroke="#FF0000" stroke-width="7.0"/>
<circle cx="934.0" cy="50.3" r="8.0" fill="#7F7F7F" stroke="#FF0000" stroke-width="7.0"/>
<circle cx="945.6" cy="51.8" r="8.0" fill="#7F7F7F" stroke="#FF0000" stroke-width="7.0"/>
<circle cx="958.4" cy="48.7" r="8.0" fill="#7F7F7F" stroke="#FF0000" stroke-width="7.0"/>
<circle cx="1002.6" cy="120.0" r="8.0" fill="#F79646" stroke="#FF0000" stroke-width="7.0"/>
<circle cx="1052.9" cy="51.4" r="8.0" fill="#7F7F7F" stroke="#FF0000" stroke-width="7.0"/>
<circle cx="1037.1" cy="76.7" r="8.0" fill="#F79646" stroke="#FF0000" stroke-width="7.0"/>
<circle cx="1064.2" cy="78.2" r="8.0" fill="#F79646" stroke="#FF0000" stroke-width="7.0"/>
<circle cx="1116.7" cy="94.9" r="8.0" fill="#92D050" stroke="#FF0000" stroke-width="7.0"/>
<circle cx="1157.8" cy="132.3" r="8.0" fill="#7030A0" stroke="#FF0000" stroke-width="7.0"/>
<circle cx="1182.3" cy="183.9" r="8.0" fill="#F79646" stroke="#FF0000" stroke-width="7.0"/>
<circle cx="1058.3" cy="293.2" r="8.0" fill="#7030A0" stroke="#FF0000" stroke-width="7.0"/>
<circle cx="1058.3" cy="285.2" r="8.0" fill="#7030A0" stroke="#FF0000" stroke-width="7.0"/>
<circle cx="1058.3" cy="325.2" r="8.0" fill="#7030A0" stroke="#FF0000" stroke-width="7.0"/>
<path d="M1059.1 399.0L1067.1 407.0L1059.1 415.0L1051.1 407.0Z" fill="#fff" stroke="#7030A0" stroke-width="3.0"/>
<path d="M1100.7 383.0L1108.7 391.0L1100.7 399.0L1092.7 391.0Z" fill="#fff" stroke="#7030A0" stroke-width="3.0"/>
<path d="M1093.3 394.1L1101.3 402.1L1093.3 410.1L1085.3 402.1Z" fill="#fff" stroke="#7030A0" stroke-width="3.0"/>
<path d="M1099.2 405.1L1107.2 413.1L1099.2 421.1L1091.2 413.1Z" fill="#fff" stroke="#7030A0" stroke-width="3.0"/>
<path d="M1125.6 519.3L1133.6 527.3L1125.6 535.3L1117.6 527.3Z" fill="#fff" stroke="#7030A0" stroke-width="3.0"/>
<path d="M1125.6 541.7L1133.6 549.7L1125.6 557.7L1117.6 549.7Z" fill="#fff" stroke="#7030A0" stroke-width="3.0"/>
<path d="M1125.6 564.1L1133.6 572.1L1125.6 580.1L1117.6 572.1Z" fill="#fff" stroke="#7030A0" stroke-width="3.0"/>
<path d="M257.0 654.9L265.0 662.9L257.0 670.9L249.0 662.9Z" fill="#fff" stroke="#7F7F7F" stroke-width="3.0"/>
<circle cx="255.7" cy="650.5" r="7.6" fill="#F79646" stroke="#000" stroke-width="1.8"/>
<circle cx="261.7" cy="647.5" r="7.6" fill="#F79646" stroke="#000" stroke-width="1.8"/>
<circle cx="274.1" cy="645.9" r="7.6" fill="#F79646" stroke="#000" stroke-width="1.8"/>
<circle cx="287.4" cy="653.0" r="7.6" fill="#92D050" stroke="#000" stroke-width="1.8"/>
<circle cx="288.4" cy="661.9" r="7.6" fill="#7F7F7F" stroke="#000" stroke-width="1.8"/>
<circle cx="319.6" cy="641.0" r="7.6" fill="#F79646" stroke="#000" stroke-width="1.8"/>
<circle cx="332.2" cy="646.5" r="7.6" fill="#F79646" stroke="#000" stroke-width="1.8"/>
<circle cx="341.2" cy="649.5" r="7.6" fill="#F79646" stroke="#000" stroke-width="1.8"/>
<circle cx="313.3" cy="658.4" r="7.6" fill="#7F7F7F" stroke="#000" stroke-width="1.8"/>
<circle cx="339.8" cy="656.9" r="7.6" fill="#7F7F7F" stroke="#000" stroke-width="1.8"/>
<circle cx="351.7" cy="658.4" r="7.6" fill="#7F7F7F" stroke="#000" stroke-width="1.8"/>
<circle cx="364.7" cy="655.4" r="7.6" fill="#7F7F7F" stroke="#000" stroke-width="1.8"/>
<circle cx="359.7" cy="637.5" r="7.6" fill="#F79646" stroke="#000" stroke-width="1.8"/>
<circle cx="329.6" cy="678.8" r="7.6" fill="#92D050" stroke="#000" stroke-width="1.8"/>
<circle cx="339.9" cy="672.9" r="7.6" fill="#F79646" stroke="#000" stroke-width="1.8"/>
<circle cx="381.5" cy="670.4" r="7.6" fill="#F79646" stroke="#000" stroke-width="1.8"/>
<circle cx="390.5" cy="670.9" r="7.6" fill="#92D050" stroke="#000" stroke-width="1.8"/>
<circle cx="388.1" cy="682.6" r="7.6" fill="#92D050" stroke="#000" stroke-width="1.8"/>
<circle cx="371.7" cy="703.8" r="7.6" fill="#F79646" stroke="#000" stroke-width="1.8"/>
<circle cx="329.7" cy="714.6" r="7.6" fill="#F79646" stroke="#000" stroke-width="1.8"/>
<circle cx="396.0" cy="712.7" r="7.6" fill="#F79646" stroke="#000" stroke-width="1.8"/>
<circle cx="371.7" cy="725.9" r="7.6" fill="#92D050" stroke="#000" stroke-width="1.8"/>
<circle cx="373.2" cy="719.8" r="7.6" fill="#7F7F7F" stroke="#000" stroke-width="1.8"/>
<circle cx="386.5" cy="731.7" r="7.6" fill="#F79646" stroke="#000" stroke-width="1.8"/>
<circle cx="393.5" cy="729.7" r="7.6" fill="#F79646" stroke="#000" stroke-width="1.8"/>
<circle cx="395.5" cy="746.9" r="7.6" fill="#92D050" stroke="#000" stroke-width="1.8"/>
<circle cx="323.0" cy="759.2" r="7.6" fill="#92D050" stroke="#000" stroke-width="1.8"/>
<circle cx="350.2" cy="757.9" r="7.6" fill="#7F7F7F" stroke="#000" stroke-width="1.8"/>
<circle cx="349.9" cy="762.5" r="7.6" fill="#F79646" stroke="#000" stroke-width="1.8"/>
<circle cx="370.9" cy="767.8" r="7.6" fill="#92D050" stroke="#000" stroke-width="1.8"/>
<circle cx="381.1" cy="767.3" r="7.6" fill="#92D050" stroke="#000" stroke-width="1.8"/>
<circle cx="364.7" cy="773.2" r="7.6" fill="#F79646" stroke="#000" stroke-width="1.8"/>
<circle cx="393.1" cy="760.9" r="7.6" fill="#F79646" stroke="#000" stroke-width="1.8"/>
<circle cx="353.3" cy="783.1" r="7.6" fill="#92D050" stroke="#000" stroke-width="1.8"/>
<circle cx="388.1" cy="781.6" r="7.6" fill="#F79646" stroke="#000" stroke-width="1.8"/>
<circle cx="377.4" cy="791.8" r="7.6" fill="#F79646" stroke="#000" stroke-width="1.8"/>
<circle cx="224.7" cy="802.1" r="7.6" fill="#F79646" stroke="#000" stroke-width="1.8"/>
<circle cx="308.2" cy="810.7" r="7.6" fill="#F79646" stroke="#000" stroke-width="1.8"/>
<circle cx="299.5" cy="819.4" r="7.6" fill="#F79646" stroke="#000" stroke-width="1.8"/>
<circle cx="417.2" cy="670.9" r="7.6" fill="#F79646" stroke="#000" stroke-width="1.8"/>
<circle cx="418.1" cy="661.5" r="7.6" fill="#F79646" stroke="#000" stroke-width="1.8"/>
<circle cx="461.3" cy="658.0" r="7.6" fill="#7F7F7F" stroke="#000" stroke-width="1.8"/>
<circle cx="472.9" cy="684.7" r="7.6" fill="#F79646" stroke="#000" stroke-width="1.8"/>
<circle cx="478.2" cy="673.6" r="7.6" fill="#F79646" stroke="#000" stroke-width="1.8"/>
<circle cx="529.4" cy="697.4" r="7.6" fill="#F79646" stroke="#000" stroke-width="1.8"/>
<circle cx="526.6" cy="701.4" r="7.6" fill="#92D050" stroke="#000" stroke-width="1.8"/>
<circle cx="409.9" cy="726.4" r="7.6" fill="#F79646" stroke="#000" stroke-width="1.8"/>
<circle cx="419.9" cy="725.9" r="7.6" fill="#7030A0" stroke="#000" stroke-width="1.8"/>
<circle cx="350.3" cy="667.9" r="7.6" fill="#92D050" stroke="#000" stroke-width="1.8"/>
<circle cx="404.6" cy="685.5" r="7.6" fill="#F79646" stroke="#000" stroke-width="1.8"/>
<circle cx="444.8" cy="664.9" r="7.6" fill="#F79646" stroke="#000" stroke-width="1.8"/>
<circle cx="495.1" cy="661.4" r="7.6" fill="#7F7F7F" stroke="#000" stroke-width="1.8"/>
<circle cx="438.3" cy="683.2" r="7.6" fill="#F79646" stroke="#000" stroke-width="1.8"/>
<circle cx="445.2" cy="683.2" r="7.6" fill="#F79646" stroke="#000" stroke-width="1.8"/>
<circle cx="439.9" cy="690.8" r="7.6" fill="#F79646" stroke="#000" stroke-width="1.8"/>
<circle cx="483.4" cy="696.2" r="7.6" fill="#F79646" stroke="#000" stroke-width="1.8"/>
<circle cx="518.2" cy="675.1" r="7.6" fill="#F79646" stroke="#000" stroke-width="1.8"/>
<circle cx="536.7" cy="683.2" r="7.6" fill="#7030A0" stroke="#000" stroke-width="1.8"/>
<circle cx="546.7" cy="688.9" r="7.6" fill="#F79646" stroke="#000" stroke-width="1.8"/>
<circle cx="449.9" cy="709.1" r="7.6" fill="#F79646" stroke="#000" stroke-width="1.8"/>
<circle cx="449.9" cy="721.8" r="7.6" fill="#F79646" stroke="#000" stroke-width="1.8"/>
<circle cx="444.4" cy="725.2" r="7.6" fill="#F79646" stroke="#000" stroke-width="1.8"/>
<circle cx="502.0" cy="709.6" r="7.6" fill="#F79646" stroke="#000" stroke-width="1.8"/>
<circle cx="473.2" cy="729.7" r="7.6" fill="#F79646" stroke="#000" stroke-width="1.8"/>
<circle cx="398.4" cy="737.4" r="7.6" fill="#F79646" stroke="#000" stroke-width="1.8"/>
<circle cx="405.3" cy="742.0" r="7.6" fill="#7030A0" stroke="#000" stroke-width="1.8"/>
<circle cx="436.5" cy="741.7" r="7.6" fill="#7030A0" stroke="#000" stroke-width="1.8"/>
<circle cx="431.5" cy="749.5" r="7.6" fill="#7030A0" stroke="#000" stroke-width="1.8"/>
<circle cx="405.3" cy="762.5" r="7.6" fill="#92D050" stroke="#000" stroke-width="1.8"/>
<circle cx="449.4" cy="762.5" r="7.6" fill="#F79646" stroke="#000" stroke-width="1.8"/>
<circle cx="458.3" cy="764.0" r="7.6" fill="#F79646" stroke="#000" stroke-width="1.8"/>
<circle cx="431.5" cy="774.7" r="7.6" fill="#F79646" stroke="#000" stroke-width="1.8"/>
<circle cx="439.9" cy="783.8" r="7.6" fill="#F79646" stroke="#000" stroke-width="1.8"/>
<circle cx="449.9" cy="783.8" r="7.6" fill="#F79646" stroke="#000" stroke-width="1.8"/>
<circle cx="461.3" cy="784.6" r="7.6" fill="#F79646" stroke="#000" stroke-width="1.8"/>
<circle cx="408.4" cy="810.6" r="7.6" fill="#92D050" stroke="#000" stroke-width="1.8"/>
<circle cx="508.4" cy="766.0" r="7.6" fill="#F79646" stroke="#000" stroke-width="1.8"/>
<circle cx="540.4" cy="745.8" r="7.6" fill="#F79646" stroke="#000" stroke-width="1.8"/>
<circle cx="547.0" cy="762.9" r="7.6" fill="#F79646" stroke="#000" stroke-width="1.8"/>
<circle cx="568.6" cy="738.6" r="7.6" fill="#7030A0" stroke="#000" stroke-width="1.8"/>
<circle cx="593.6" cy="789.9" r="7.6" fill="#F79646" stroke="#000" stroke-width="1.8"/>
<circle cx="486.8" cy="846.3" r="7.6" fill="#F79646" stroke="#000" stroke-width="1.8"/>
<circle cx="466.9" cy="890.8" r="7.6" fill="#7030A0" stroke="#000" stroke-width="1.8"/>
<circle cx="466.9" cy="898.7" r="7.6" fill="#7030A0" stroke="#000" stroke-width="1.8"/>
<circle cx="524.8" cy="923.2" r="7.6" fill="#7030A0" stroke="#000" stroke-width="1.8"/>
<circle cx="524.8" cy="913.7" r="7.6" fill="#7030A0" stroke="#000" stroke-width="1.8"/>
<circle cx="466.9" cy="930.6" r="7.6" fill="#7030A0" stroke="#000" stroke-width="1.8"/>
<circle cx="506.2" cy="947.1" r="7.6" fill="#7030A0" stroke="#000" stroke-width="1.8"/>
<circle cx="506.2" cy="944.8" r="7.6" fill="#7030A0" stroke="#000" stroke-width="1.8"/>
<circle cx="465.2" cy="972.1" r="7.6" fill="#7030A0" stroke="#000" stroke-width="1.8"/>
<circle cx="465.2" cy="970.1" r="7.6" fill="#7030A0" stroke="#000" stroke-width="1.8"/>
<circle cx="503.7" cy="993.9" r="7.6" fill="#7030A0" stroke="#000" stroke-width="1.8"/>
<circle cx="512.8" cy="1004.1" r="7.6" fill="#7030A0" stroke="#000" stroke-width="1.8"/>
<circle cx="534.9" cy="1118.8" r="7.6" fill="#7030A0" stroke="#000" stroke-width="1.8"/>
<circle cx="534.9" cy="1113.0" r="7.6" fill="#7030A0" stroke="#000" stroke-width="1.8"/>
<circle cx="534.9" cy="1106.6" r="7.6" fill="#7030A0" stroke="#000" stroke-width="1.8"/>
<circle cx="288.4" cy="661.9" r="8.0" fill="#7F7F7F" stroke="#FF0000" stroke-width="7.0"/>
<circle cx="313.3" cy="658.4" r="8.0" fill="#7F7F7F" stroke="#FF0000" stroke-width="7.0"/>
<circle cx="339.8" cy="656.9" r="8.0" fill="#7F7F7F" stroke="#FF0000" stroke-width="7.0"/>
<circle cx="351.7" cy="658.4" r="8.0" fill="#7F7F7F" stroke="#FF0000" stroke-width="7.0"/>
<circle cx="364.7" cy="655.4" r="8.0" fill="#7F7F7F" stroke="#FF0000" stroke-width="7.0"/>
<circle cx="339.9" cy="672.9" r="8.0" fill="#F79646" stroke="#FF0000" stroke-width="7.0"/>
<circle cx="381.5" cy="670.4" r="8.0" fill="#F79646" stroke="#FF0000" stroke-width="7.0"/>
<circle cx="417.2" cy="670.9" r="8.0" fill="#F79646" stroke="#FF0000" stroke-width="7.0"/>
<circle cx="404.6" cy="685.5" r="8.0" fill="#F79646" stroke="#FF0000" stroke-width="7.0"/>
<circle cx="445.2" cy="683.2" r="8.0" fill="#F79646" stroke="#FF0000" stroke-width="7.0"/>
<circle cx="472.9" cy="684.7" r="8.0" fill="#F79646" stroke="#FF0000" stroke-width="7.0"/>
<circle cx="461.3" cy="658.0" r="8.0" fill="#7F7F7F" stroke="#FF0000" stroke-width="7.0"/>
<circle cx="371.7" cy="703.8" r="8.0" fill="#F79646" stroke="#FF0000" stroke-width="7.0"/>
<circle cx="396.0" cy="712.7" r="8.0" fill="#F79646" stroke="#FF0000" stroke-width="7.0"/>
<circle cx="299.5" cy="819.4" r="8.0" fill="#F79646" stroke="#FF0000" stroke-width="7.0"/>
<circle cx="466.9" cy="890.8" r="8.0" fill="#7030A0" stroke="#FF0000" stroke-width="7.0"/>
<circle cx="466.9" cy="898.7" r="8.0" fill="#7030A0" stroke="#FF0000" stroke-width="7.0"/>
<circle cx="466.9" cy="930.6" r="8.0" fill="#7030A0" stroke="#FF0000" stroke-width="7.0"/>
<circle cx="506.2" cy="944.8" r="8.0" fill="#7030A0" stroke="#FF0000" stroke-width="7.0"/>
<circle cx="506.2" cy="947.1" r="8.0" fill="#7030A0" stroke="#FF0000" stroke-width="7.0"/>
<circle cx="465.2" cy="970.1" r="8.0" fill="#7030A0" stroke="#FF0000" stroke-width="7.0"/>
<path d="M467.7 1004.0L475.7 1012.0L467.7 1020.0L459.7 1012.0Z" fill="#fff" stroke="#7030A0" stroke-width="3.0"/>
<path d="M510.2 988.1L518.2 996.1L510.2 1004.1L502.2 996.1Z" fill="#fff" stroke="#7030A0" stroke-width="3.0"/>
<path d="M502.7 999.1L510.7 1007.1L502.7 1015.1L494.7 1007.1Z" fill="#fff" stroke="#7030A0" stroke-width="3.0"/>
<path d="M508.7 1010.1L516.7 1018.1L508.7 1026.1L500.7 1018.1Z" fill="#fff" stroke="#7030A0" stroke-width="3.0"/>
<path d="M535.7 1123.7L543.7 1131.7L535.7 1139.7L527.7 1131.7Z" fill="#fff" stroke="#7030A0" stroke-width="3.0"/>
<path d="M535.7 1146.0L543.7 1154.0L535.7 1162.0L527.7 1154.0Z" fill="#fff" stroke="#7030A0" stroke-width="3.0"/>
<path d="M535.7 1168.3L543.7 1176.3L535.7 1184.3L527.7 1176.3Z" fill="#fff" stroke="#7030A0" stroke-width="3.0"/>
<path d="M852.5 655.2L860.5 663.2L852.5 671.2L844.5 663.2Z" fill="#fff" stroke="#7F7F7F" stroke-width="3.0"/>
<circle cx="851.2" cy="650.8" r="7.6" fill="#F79646" stroke="#000" stroke-width="1.8"/>
<circle cx="857.1" cy="647.8" r="7.6" fill="#F79646" stroke="#000" stroke-width="1.8"/>
<circle cx="869.3" cy="646.2" r="7.6" fill="#F79646" stroke="#000" stroke-width="1.8"/>
<circle cx="882.3" cy="653.3" r="7.6" fill="#92D050" stroke="#000" stroke-width="1.8"/>
<circle cx="883.3" cy="662.2" r="7.6" fill="#7F7F7F" stroke="#000" stroke-width="1.8"/>
<circle cx="913.9" cy="641.3" r="7.6" fill="#F79646" stroke="#000" stroke-width="1.8"/>
<circle cx="926.3" cy="646.8" r="7.6" fill="#F79646" stroke="#000" stroke-width="1.8"/>
<circle cx="935.1" cy="649.8" r="7.6" fill="#F79646" stroke="#000" stroke-width="1.8"/>
<circle cx="907.8" cy="658.7" r="7.6" fill="#7F7F7F" stroke="#000" stroke-width="1.8"/>
<circle cx="933.8" cy="657.3" r="7.6" fill="#7F7F7F" stroke="#000" stroke-width="1.8"/>
<circle cx="945.4" cy="658.7" r="7.6" fill="#7F7F7F" stroke="#000" stroke-width="1.8"/>
<circle cx="958.2" cy="655.8" r="7.6" fill="#7F7F7F" stroke="#000" stroke-width="1.8"/>
<circle cx="953.3" cy="637.8" r="7.6" fill="#F79646" stroke="#000" stroke-width="1.8"/>
<circle cx="923.8" cy="679.1" r="7.6" fill="#92D050" stroke="#000" stroke-width="1.8"/>
<circle cx="933.9" cy="673.2" r="7.6" fill="#F79646" stroke="#000" stroke-width="1.8"/>
<circle cx="974.6" cy="670.7" r="7.6" fill="#F79646" stroke="#000" stroke-width="1.8"/>
<circle cx="983.5" cy="671.2" r="7.6" fill="#92D050" stroke="#000" stroke-width="1.8"/>
<circle cx="981.2" cy="682.9" r="7.6" fill="#92D050" stroke="#000" stroke-width="1.8"/>
<circle cx="965.1" cy="704.0" r="7.6" fill="#F79646" stroke="#000" stroke-width="1.8"/>
<circle cx="923.9" cy="714.8" r="7.6" fill="#F79646" stroke="#000" stroke-width="1.8"/>
<circle cx="989.0" cy="712.9" r="7.6" fill="#F79646" stroke="#000" stroke-width="1.8"/>
<circle cx="965.1" cy="726.1" r="7.6" fill="#92D050" stroke="#000" stroke-width="1.8"/>
<circle cx="966.5" cy="720.0" r="7.6" fill="#7F7F7F" stroke="#000" stroke-width="1.8"/>
<circle cx="979.6" cy="731.9" r="7.6" fill="#F79646" stroke="#000" stroke-width="1.8"/>
<circle cx="986.5" cy="729.9" r="7.6" fill="#F79646" stroke="#000" stroke-width="1.8"/>
<circle cx="988.5" cy="747.0" r="7.6" fill="#92D050" stroke="#000" stroke-width="1.8"/>
<circle cx="917.3" cy="759.4" r="7.6" fill="#92D050" stroke="#000" stroke-width="1.8"/>
<circle cx="943.9" cy="758.1" r="7.6" fill="#7F7F7F" stroke="#000" stroke-width="1.8"/>
<circle cx="943.6" cy="762.7" r="7.6" fill="#F79646" stroke="#000" stroke-width="1.8"/>
<circle cx="964.3" cy="768.0" r="7.6" fill="#92D050" stroke="#000" stroke-width="1.8"/>
<circle cx="974.3" cy="767.5" r="7.6" fill="#92D050" stroke="#000" stroke-width="1.8"/>
<circle cx="958.2" cy="773.4" r="7.6" fill="#F79646" stroke="#000" stroke-width="1.8"/>
<circle cx="986.1" cy="761.1" r="7.6" fill="#F79646" stroke="#000" stroke-width="1.8"/>
<circle cx="947.0" cy="783.2" r="7.6" fill="#92D050" stroke="#000" stroke-width="1.8"/>
<circle cx="981.2" cy="781.8" r="7.6" fill="#F79646" stroke="#000" stroke-width="1.8"/>
<circle cx="970.7" cy="791.9" r="7.6" fill="#F79646" stroke="#000" stroke-width="1.8"/>
<circle cx="820.8" cy="802.2" r="7.6" fill="#F79646" stroke="#000" stroke-width="1.8"/>
<circle cx="902.8" cy="810.8" r="7.6" fill="#F79646" stroke="#000" stroke-width="1.8"/>
<circle cx="894.2" cy="819.5" r="7.6" fill="#F79646" stroke="#000" stroke-width="1.8"/>
<circle cx="1009.7" cy="671.2" r="7.6" fill="#F79646" stroke="#000" stroke-width="1.8"/>
<circle cx="1010.6" cy="661.8" r="7.6" fill="#F79646" stroke="#000" stroke-width="1.8"/>
<circle cx="1053.0" cy="658.3" r="7.6" fill="#7F7F7F" stroke="#000" stroke-width="1.8"/>
<circle cx="1064.4" cy="685.0" r="7.6" fill="#F79646" stroke="#000" stroke-width="1.8"/>
<circle cx="1069.6" cy="673.9" r="7.6" fill="#F79646" stroke="#000" stroke-width="1.8"/>
<circle cx="1119.8" cy="697.7" r="7.6" fill="#F79646" stroke="#000" stroke-width="1.8"/>
<circle cx="1117.1" cy="701.6" r="7.6" fill="#92D050" stroke="#000" stroke-width="1.8"/>
<circle cx="1002.6" cy="726.6" r="7.6" fill="#F79646" stroke="#000" stroke-width="1.8"/>
<circle cx="1012.4" cy="726.1" r="7.6" fill="#7030A0" stroke="#000" stroke-width="1.8"/>
<circle cx="944.0" cy="668.2" r="7.6" fill="#92D050" stroke="#000" stroke-width="1.8"/>
<circle cx="997.4" cy="685.8" r="7.6" fill="#F79646" stroke="#000" stroke-width="1.8"/>
<circle cx="1036.8" cy="665.2" r="7.6" fill="#F79646" stroke="#000" stroke-width="1.8"/>
<circle cx="1086.2" cy="661.7" r="7.6" fill="#7F7F7F" stroke="#000" stroke-width="1.8"/>
<circle cx="1030.4" cy="683.5" r="7.6" fill="#F79646" stroke="#000" stroke-width="1.8"/>
<circle cx="1037.2" cy="683.5" r="7.6" fill="#F79646" stroke="#000" stroke-width="1.8"/>
<circle cx="1032.0" cy="691.1" r="7.6" fill="#F79646" stroke="#000" stroke-width="1.8"/>
<circle cx="1074.7" cy="696.5" r="7.6" fill="#F79646" stroke="#000" stroke-width="1.8"/>
<circle cx="1108.8" cy="675.4" r="7.6" fill="#F79646" stroke="#000" stroke-width="1.8"/>
<circle cx="1127.0" cy="683.5" r="7.6" fill="#7030A0" stroke="#000" stroke-width="1.8"/>
<circle cx="1136.8" cy="689.2" r="7.6" fill="#F79646" stroke="#000" stroke-width="1.8"/>
<circle cx="1041.8" cy="709.3" r="7.6" fill="#F79646" stroke="#000" stroke-width="1.8"/>
<circle cx="1041.8" cy="722.0" r="7.6" fill="#F79646" stroke="#000" stroke-width="1.8"/>
<circle cx="1036.5" cy="725.4" r="7.6" fill="#F79646" stroke="#000" stroke-width="1.8"/>
<circle cx="1092.9" cy="709.8" r="7.6" fill="#F79646" stroke="#000" stroke-width="1.8"/>
<circle cx="1064.7" cy="729.9" r="7.6" fill="#F79646" stroke="#000" stroke-width="1.8"/>
<circle cx="991.2" cy="737.6" r="7.6" fill="#F79646" stroke="#000" stroke-width="1.8"/>
<circle cx="998.0" cy="742.1" r="7.6" fill="#7030A0" stroke="#000" stroke-width="1.8"/>
<circle cx="1028.7" cy="741.8" r="7.6" fill="#7030A0" stroke="#000" stroke-width="1.8"/>
<circle cx="1023.7" cy="749.7" r="7.6" fill="#7030A0" stroke="#000" stroke-width="1.8"/>
<circle cx="998.0" cy="762.7" r="7.6" fill="#92D050" stroke="#000" stroke-width="1.8"/>
<circle cx="1041.3" cy="762.7" r="7.6" fill="#F79646" stroke="#000" stroke-width="1.8"/>
<circle cx="1050.1" cy="764.2" r="7.6" fill="#F79646" stroke="#000" stroke-width="1.8"/>
<circle cx="1023.7" cy="774.9" r="7.6" fill="#F79646" stroke="#000" stroke-width="1.8"/>
<circle cx="1032.0" cy="783.9" r="7.6" fill="#F79646" stroke="#000" stroke-width="1.8"/>
<circle cx="1041.8" cy="783.9" r="7.6" fill="#F79646" stroke="#000" stroke-width="1.8"/>
<circle cx="1053.0" cy="784.7" r="7.6" fill="#F79646" stroke="#000" stroke-width="1.8"/>
<circle cx="1001.1" cy="810.7" r="7.6" fill="#92D050" stroke="#000" stroke-width="1.8"/>
<circle cx="1099.2" cy="766.2" r="7.6" fill="#F79646" stroke="#000" stroke-width="1.8"/>
<circle cx="1130.6" cy="745.9" r="7.6" fill="#F79646" stroke="#000" stroke-width="1.8"/>
<circle cx="1137.1" cy="763.1" r="7.6" fill="#F79646" stroke="#000" stroke-width="1.8"/>
<circle cx="1158.3" cy="738.8" r="7.6" fill="#7030A0" stroke="#000" stroke-width="1.8"/>
<circle cx="1182.9" cy="790.0" r="7.6" fill="#F79646" stroke="#000" stroke-width="1.8"/>
<circle cx="1078.0" cy="846.4" r="7.6" fill="#F79646" stroke="#000" stroke-width="1.8"/>
<circle cx="1058.5" cy="890.8" r="7.6" fill="#7030A0" stroke="#000" stroke-width="1.8"/>
<circle cx="1058.5" cy="898.7" r="7.6" fill="#7030A0" stroke="#000" stroke-width="1.8"/>
<circle cx="1115.3" cy="923.1" r="7.6" fill="#7030A0" stroke="#000" stroke-width="1.8"/>
<circle cx="1115.3" cy="913.6" r="7.6" fill="#7030A0" stroke="#000" stroke-width="1.8"/>
<circle cx="1058.5" cy="930.5" r="7.6" fill="#7030A0" stroke="#000" stroke-width="1.8"/>
<circle cx="1097.1" cy="947.1" r="7.6" fill="#7030A0" stroke="#000" stroke-width="1.8"/>
<circle cx="1097.1" cy="944.8" r="7.6" fill="#7030A0" stroke="#000" stroke-width="1.8"/>
<circle cx="1056.8" cy="972.0" r="7.6" fill="#7030A0" stroke="#000" stroke-width="1.8"/>
<circle cx="1056.8" cy="970.0" r="7.6" fill="#7030A0" stroke="#000" stroke-width="1.8"/>
<circle cx="1094.6" cy="993.7" r="7.6" fill="#7030A0" stroke="#000" stroke-width="1.8"/>
<circle cx="1103.5" cy="1003.9" r="7.6" fill="#7030A0" stroke="#000" stroke-width="1.8"/>
<circle cx="1125.2" cy="1118.4" r="7.6" fill="#7030A0" stroke="#000" stroke-width="1.8"/>
<circle cx="1125.2" cy="1112.7" r="7.6" fill="#7030A0" stroke="#000" stroke-width="1.8"/>
<circle cx="1125.2" cy="1106.3" r="7.6" fill="#7030A0" stroke="#000" stroke-width="1.8"/>
<circle cx="944.0" cy="668.2" r="8.0" fill="#92D050" stroke="#FF0000" stroke-width="7.0"/>
<circle cx="923.8" cy="679.1" r="8.0" fill="#92D050" stroke="#FF0000" stroke-width="7.0"/>
<circle cx="983.5" cy="671.2" r="8.0" fill="#92D050" stroke="#FF0000" stroke-width="7.0"/>
<circle cx="981.2" cy="682.9" r="8.0" fill="#92D050" stroke="#FF0000" stroke-width="7.0"/>
<circle cx="923.9" cy="714.8" r="8.0" fill="#F79646" stroke="#FF0000" stroke-width="7.0"/>
<circle cx="965.1" cy="726.1" r="8.0" fill="#92D050" stroke="#FF0000" stroke-width="7.0"/>
<circle cx="979.6" cy="731.9" r="8.0" fill="#F79646" stroke="#FF0000" stroke-width="7.0"/>
<circle cx="991.2" cy="737.6" r="8.0" fill="#F79646" stroke="#FF0000" stroke-width="7.0"/>
<circle cx="1037.2" cy="683.5" r="8.0" fill="#F79646" stroke="#FF0000" stroke-width="7.0"/>
<circle cx="1064.4" cy="685.0" r="8.0" fill="#F79646" stroke="#FF0000" stroke-width="7.0"/>
<circle cx="1069.6" cy="673.9" r="8.0" fill="#F79646" stroke="#FF0000" stroke-width="7.0"/>
<circle cx="1036.5" cy="725.4" r="8.0" fill="#F79646" stroke="#FF0000" stroke-width="7.0"/>
<circle cx="1064.7" cy="729.9" r="8.0" fill="#F79646" stroke="#FF0000" stroke-width="7.0"/>
<circle cx="917.3" cy="759.4" r="8.0" fill="#92D050" stroke="#FF0000" stroke-width="7.0"/>
<circle cx="943.6" cy="762.7" r="8.0" fill="#F79646" stroke="#FF0000" stroke-width="7.0"/>
<circle cx="958.2" cy="773.4" r="8.0" fill="#F79646" stroke="#FF0000" stroke-width="7.0"/>
<circle cx="974.3" cy="767.5" r="8.0" fill="#92D050" stroke="#FF0000" stroke-width="7.0"/>
<circle cx="986.1" cy="761.1" r="8.0" fill="#F79646" stroke="#FF0000" stroke-width="7.0"/>
<circle cx="998.0" cy="762.7" r="8.0" fill="#92D050" stroke="#FF0000" stroke-width="7.0"/>
<circle cx="947.0" cy="783.2" r="8.0" fill="#92D050" stroke="#FF0000" stroke-width="7.0"/>
<circle cx="970.7" cy="791.9" r="8.0" fill="#F79646" stroke="#FF0000" stroke-width="7.0"/>
<circle cx="981.2" cy="781.8" r="8.0" fill="#F79646" stroke="#FF0000" stroke-width="7.0"/>
<circle cx="1023.7" cy="774.9" r="8.0" fill="#F79646" stroke="#FF0000" stroke-width="7.0"/>
<circle cx="1050.1" cy="764.2" r="8.0" fill="#F79646" stroke="#FF0000" stroke-width="7.0"/>
<circle cx="1041.8" cy="783.9" r="8.0" fill="#F79646" stroke="#FF0000" stroke-width="7.0"/>
<circle cx="902.8" cy="810.8" r="8.0" fill="#F79646" stroke="#FF0000" stroke-width="7.0"/>
<circle cx="1001.1" cy="810.7" r="8.0" fill="#92D050" stroke="#FF0000" stroke-width="7.0"/>
<circle cx="820.8" cy="802.2" r="8.0" fill="#F79646" stroke="#FF0000" stroke-width="7.0"/>
<circle cx="1127.0" cy="683.5" r="8.0" fill="#7030A0" stroke="#FF0000" stroke-width="7.0"/>
<circle cx="1092.9" cy="709.8" r="8.0" fill="#F79646" stroke="#FF0000" stroke-width="7.0"/>
<circle cx="1130.6" cy="745.9" r="8.0" fill="#F79646" stroke="#FF0000" stroke-width="7.0"/>
<circle cx="1137.1" cy="763.1" r="8.0" fill="#F79646" stroke="#FF0000" stroke-width="7.0"/>
<circle cx="1158.3" cy="738.8" r="8.0" fill="#7030A0" stroke="#FF0000" stroke-width="7.0"/>
<circle cx="1099.2" cy="766.2" r="8.0" fill="#F79646" stroke="#FF0000" stroke-width="7.0"/>
<circle cx="1182.9" cy="790.0" r="8.0" fill="#F79646" stroke="#FF0000" stroke-width="7.0"/>
<circle cx="1078.0" cy="846.4" r="8.0" fill="#F79646" stroke="#FF0000" stroke-width="7.0"/>
<circle cx="1115.3" cy="913.6" r="8.0" fill="#7030A0" stroke="#FF0000" stroke-width="7.0"/>
<circle cx="1115.3" cy="923.1" r="8.0" fill="#7030A0" stroke="#FF0000" stroke-width="7.0"/>
<circle cx="1094.6" cy="993.7" r="8.0" fill="#7030A0" stroke="#FF0000" stroke-width="7.0"/>
<circle cx="1103.5" cy="1003.9" r="8.0" fill="#7030A0" stroke="#FF0000" stroke-width="7.0"/>
<path d="M1059.3 1003.8L1067.3 1011.8L1059.3 1019.8L1051.3 1011.8Z" fill="#fff" stroke="#7030A0" stroke-width="3.0"/>
<path d="M1101.0 987.9L1109.0 995.9L1101.0 1003.9L1093.0 995.9Z" fill="#fff" stroke="#7030A0" stroke-width="3.0"/>
<path d="M1093.6 998.9L1101.6 1006.9L1093.6 1014.9L1085.6 1006.9Z" fill="#fff" stroke="#7030A0" stroke-width="3.0"/>
<path d="M1099.5 1009.9L1107.5 1017.9L1099.5 1025.9L1091.5 1017.9Z" fill="#fff" stroke="#7030A0" stroke-width="3.0"/>
<path d="M1126.0 1123.4L1134.0 1131.4L1126.0 1139.4L1118.0 1131.4Z" fill="#fff" stroke="#7030A0" stroke-width="3.0"/>
<path d="M1126.0 1145.7L1134.0 1153.7L1126.0 1161.7L1118.0 1153.7Z" fill="#fff" stroke="#7030A0" stroke-width="3.0"/>
<path d="M1126.0 1167.9L1134.0 1175.9L1126.0 1183.9L1118.0 1175.9Z" fill="#fff" stroke="#7030A0" stroke-width="3.0"/>
<circle cx="287.9" cy="1289.6" r="7.6" fill="#9BBB59" stroke="#000" stroke-width="1.8"/>
<circle cx="408.7" cy="1291.2" r="7.6" fill="#9BBB59" stroke="#000" stroke-width="1.8"/>
<circle cx="325.7" cy="1318.6" r="7.6" fill="#9BBB59" stroke="#000" stroke-width="1.8"/>
<circle cx="372.5" cy="1318.6" r="7.6" fill="#9BBB59" stroke="#000" stroke-width="1.8"/>
<circle cx="372.5" cy="1325.2" r="7.6" fill="#9BBB59" stroke="#000" stroke-width="1.8"/>
<circle cx="398.7" cy="1321.7" r="7.6" fill="#9BBB59" stroke="#000" stroke-width="1.8"/>
<circle cx="359.6" cy="1337.4" r="7.6" fill="#9BBB59" stroke="#000" stroke-width="1.8"/>
<circle cx="384.2" cy="1352.7" r="7.6" fill="#9BBB59" stroke="#000" stroke-width="1.8"/>
<circle cx="410.2" cy="1350.7" r="7.6" fill="#9BBB59" stroke="#000" stroke-width="1.8"/>
<circle cx="390.4" cy="1377.9" r="7.6" fill="#9BBB59" stroke="#000" stroke-width="1.8"/>
<circle cx="351.7" cy="1358.5" r="7.6" fill="#9BBB59" stroke="#000" stroke-width="1.8"/>
<circle cx="351.7" cy="1372.0" r="7.6" fill="#9BBB59" stroke="#000" stroke-width="1.8"/>
<circle cx="351.7" cy="1462.0" r="7.6" fill="#F79646" stroke="#000" stroke-width="1.8"/>
<circle cx="256.9" cy="1382.8" r="7.6" fill="#F79646" stroke="#000" stroke-width="1.8"/>
<circle cx="340.7" cy="1364.9" r="7.6" fill="#F79646" stroke="#000" stroke-width="1.8"/>
<circle cx="331.9" cy="1371.8" r="7.6" fill="#F79646" stroke="#000" stroke-width="1.8"/>
<circle cx="372.5" cy="1368.7" r="7.6" fill="#F79646" stroke="#000" stroke-width="1.8"/>
<circle cx="320.3" cy="1398.9" r="7.6" fill="#F79646" stroke="#000" stroke-width="1.8"/>
<circle cx="331.9" cy="1417.6" r="7.6" fill="#9BBB59" stroke="#000" stroke-width="1.8"/>
<circle cx="331.9" cy="1409.9" r="7.6" fill="#F79646" stroke="#000" stroke-width="1.8"/>
<circle cx="382.2" cy="1395.9" r="7.6" fill="#F79646" stroke="#000" stroke-width="1.8"/>
<circle cx="378.4" cy="1401.5" r="7.6" fill="#F79646" stroke="#000" stroke-width="1.8"/>
<circle cx="391.5" cy="1400.8" r="7.6" fill="#9BBB59" stroke="#000" stroke-width="1.8"/>
<circle cx="390.0" cy="1408.4" r="7.6" fill="#F79646" stroke="#000" stroke-width="1.8"/>
<circle cx="396.1" cy="1409.2" r="7.6" fill="#F79646" stroke="#000" stroke-width="1.8"/>
<circle cx="302.2" cy="1435.9" r="7.6" fill="#F79646" stroke="#000" stroke-width="1.8"/>
<circle cx="276.7" cy="1450.4" r="7.6" fill="#F79646" stroke="#000" stroke-width="1.8"/>
<circle cx="263.6" cy="1457.0" r="7.6" fill="#F79646" stroke="#000" stroke-width="1.8"/>
<circle cx="287.6" cy="1469.5" r="7.6" fill="#F79646" stroke="#000" stroke-width="1.8"/>
<circle cx="392.3" cy="1469.5" r="7.6" fill="#F79646" stroke="#000" stroke-width="1.8"/>
<circle cx="351.5" cy="1345.8" r="7.6" fill="#7F7F7F" stroke="#000" stroke-width="1.8"/>
<circle cx="351.5" cy="1354.0" r="7.6" fill="#7F7F7F" stroke="#000" stroke-width="1.8"/>
<circle cx="351.5" cy="1362.5" r="7.6" fill="#7F7F7F" stroke="#000" stroke-width="1.8"/>
<circle cx="351.5" cy="1375.8" r="7.6" fill="#7F7F7F" stroke="#000" stroke-width="1.8"/>
<circle cx="351.5" cy="1381.7" r="7.6" fill="#7F7F7F" stroke="#000" stroke-width="1.8"/>
<circle cx="351.5" cy="1390.8" r="7.6" fill="#7F7F7F" stroke="#000" stroke-width="1.8"/>
<circle cx="351.5" cy="1403.8" r="7.6" fill="#7F7F7F" stroke="#000" stroke-width="1.8"/>
<circle cx="351.5" cy="1412.9" r="7.6" fill="#7F7F7F" stroke="#000" stroke-width="1.8"/>
<circle cx="351.5" cy="1421.4" r="7.6" fill="#7F7F7F" stroke="#000" stroke-width="1.8"/>
<circle cx="351.5" cy="1434.4" r="7.6" fill="#7F7F7F" stroke="#000" stroke-width="1.8"/>
<circle cx="351.5" cy="1440.5" r="7.6" fill="#7F7F7F" stroke="#000" stroke-width="1.8"/>
<circle cx="351.5" cy="1448.9" r="7.6" fill="#7F7F7F" stroke="#000" stroke-width="1.8"/>
<circle cx="351.5" cy="1461.8" r="7.6" fill="#7F7F7F" stroke="#000" stroke-width="1.8"/>
<circle cx="291.1" cy="1331.3" r="7.6" fill="#7F7F7F" stroke="#000" stroke-width="1.8"/>
<circle cx="291.1" cy="1337.9" r="7.6" fill="#7F7F7F" stroke="#000" stroke-width="1.8"/>
<circle cx="315.6" cy="1326.7" r="7.6" fill="#7F7F7F" stroke="#000" stroke-width="1.8"/>
<circle cx="353.0" cy="1328.3" r="7.6" fill="#7F7F7F" stroke="#000" stroke-width="1.8"/>
<circle cx="367.6" cy="1354.2" r="7.6" fill="#7F7F7F" stroke="#000" stroke-width="1.8"/>
<circle cx="343.3" cy="1435.9" r="7.6" fill="#7F7F7F" stroke="#000" stroke-width="1.8"/>
<circle cx="462.1" cy="1345.8" r="7.6" fill="#7F7F7F" stroke="#000" stroke-width="1.8"/>
<circle cx="416.6" cy="1411.5" r="7.6" fill="#F79646" stroke="#000" stroke-width="1.8"/>
<circle cx="433.6" cy="1422.9" r="7.6" fill="#F79646" stroke="#000" stroke-width="1.8"/>
<circle cx="459.8" cy="1416.8" r="7.6" fill="#F79646" stroke="#000" stroke-width="1.8"/>
<circle cx="478.2" cy="1425.2" r="7.6" fill="#F79646" stroke="#000" stroke-width="1.8"/>
<circle cx="447.5" cy="1418.3" r="7.6" fill="#F79646" stroke="#000" stroke-width="1.8"/>
<circle cx="475.1" cy="1410.2" r="7.6" fill="#F79646" stroke="#000" stroke-width="1.8"/>
<circle cx="527.1" cy="1421.4" r="7.6" fill="#9BBB59" stroke="#000" stroke-width="1.8"/>
<circle cx="408.6" cy="1435.0" r="7.6" fill="#F79646" stroke="#000" stroke-width="1.8"/>
<circle cx="411.7" cy="1441.5" r="7.6" fill="#F79646" stroke="#000" stroke-width="1.8"/>
<circle cx="406.0" cy="1432.8" r="7.6" fill="#7030A0" stroke="#000" stroke-width="1.8"/>
<circle cx="421.4" cy="1435.1" r="7.6" fill="#F79646" stroke="#000" stroke-width="1.8"/>
<circle cx="418.3" cy="1454.9" r="7.6" fill="#7030A0" stroke="#000" stroke-width="1.8"/>
<circle cx="432.9" cy="1448.8" r="7.6" fill="#7030A0" stroke="#000" stroke-width="1.8"/>
<circle cx="445.9" cy="1443.5" r="7.6" fill="#F79646" stroke="#000" stroke-width="1.8"/>
<circle cx="441.3" cy="1456.5" r="7.6" fill="#F79646" stroke="#000" stroke-width="1.8"/>
<circle cx="441.3" cy="1462.6" r="7.6" fill="#F79646" stroke="#000" stroke-width="1.8"/>
<circle cx="478.2" cy="1451.9" r="7.6" fill="#F79646" stroke="#000" stroke-width="1.8"/>
<circle cx="496.3" cy="1440.5" r="7.6" fill="#7F7F7F" stroke="#000" stroke-width="1.8"/>
<circle cx="475.1" cy="1474.5" r="7.6" fill="#F79646" stroke="#000" stroke-width="1.8"/>
<circle cx="462.5" cy="1482.1" r="7.6" fill="#F79646" stroke="#000" stroke-width="1.8"/>
<circle cx="451.7" cy="1484.4" r="7.6" fill="#F79646" stroke="#000" stroke-width="1.8"/>
<circle cx="452.5" cy="1493.6" r="7.6" fill="#F79646" stroke="#000" stroke-width="1.8"/>
<circle cx="484.8" cy="1489.0" r="7.6" fill="#F79646" stroke="#000" stroke-width="1.8"/>
<circle cx="508.6" cy="1483.7" r="7.6" fill="#F79646" stroke="#000" stroke-width="1.8"/>
<circle cx="518.7" cy="1488.7" r="7.6" fill="#F79646" stroke="#000" stroke-width="1.8"/>
<circle cx="528.6" cy="1495.1" r="7.6" fill="#F79646" stroke="#000" stroke-width="1.8"/>
<circle cx="548.6" cy="1474.5" r="7.6" fill="#F79646" stroke="#000" stroke-width="1.8"/>
<circle cx="547.1" cy="1486.0" r="7.6" fill="#F79646" stroke="#000" stroke-width="1.8"/>
<circle cx="540.9" cy="1509.6" r="7.6" fill="#F79646" stroke="#000" stroke-width="1.8"/>
<circle cx="528.6" cy="1510.4" r="7.6" fill="#7030A0" stroke="#000" stroke-width="1.8"/>
<circle cx="528.6" cy="1521.1" r="7.6" fill="#7030A0" stroke="#000" stroke-width="1.8"/>
<circle cx="528.6" cy="1536.3" r="7.6" fill="#7030A0" stroke="#000" stroke-width="1.8"/>
<circle cx="528.6" cy="1544.7" r="7.6" fill="#7030A0" stroke="#000" stroke-width="1.8"/>
<circle cx="528.6" cy="1553.1" r="7.6" fill="#7030A0" stroke="#000" stroke-width="1.8"/>
<circle cx="503.0" cy="1551.6" r="7.6" fill="#F79646" stroke="#000" stroke-width="1.8"/>
<circle cx="595.5" cy="1452.1" r="7.6" fill="#F79646" stroke="#000" stroke-width="1.8"/>
<circle cx="468.6" cy="1550.1" r="7.6" fill="#7030A0" stroke="#000" stroke-width="1.8"/>
<circle cx="468.6" cy="1580.6" r="7.6" fill="#7030A0" stroke="#000" stroke-width="1.8"/>
<circle cx="468.6" cy="1601.2" r="7.6" fill="#7030A0" stroke="#000" stroke-width="1.8"/>
<circle cx="376.1" cy="1481.0" r="7.6" fill="#7F7F7F" stroke="#000" stroke-width="1.8"/>
<circle cx="341.4" cy="1521.2" r="7.6" fill="#F79646" stroke="#000" stroke-width="1.8"/>
<circle cx="227.8" cy="1495.7" r="7.6" fill="#F79646" stroke="#000" stroke-width="1.8"/>
<circle cx="504.3" cy="1630.3" r="7.6" fill="#7030A0" stroke="#000" stroke-width="1.8"/>
<circle cx="506.6" cy="1642.2" r="7.6" fill="#7030A0" stroke="#000" stroke-width="1.8"/>
<circle cx="512.1" cy="1642.7" r="7.6" fill="#7030A0" stroke="#000" stroke-width="1.8"/>
<circle cx="287.9" cy="1289.6" r="8.0" fill="#9BBB59" stroke="#FF0000" stroke-width="7.0"/>
<circle cx="291.1" cy="1331.3" r="8.0" fill="#7F7F7F" stroke="#FF0000" stroke-width="7.0"/>
<circle cx="291.1" cy="1337.9" r="8.0" fill="#7F7F7F" stroke="#FF0000" stroke-width="7.0"/>
<circle cx="315.6" cy="1326.7" r="8.0" fill="#7F7F7F" stroke="#FF0000" stroke-width="7.0"/>
<circle cx="353.0" cy="1328.3" r="8.0" fill="#7F7F7F" stroke="#FF0000" stroke-width="7.0"/>
<circle cx="367.6" cy="1354.2" r="8.0" fill="#7F7F7F" stroke="#FF0000" stroke-width="7.0"/>
<circle cx="340.7" cy="1364.9" r="8.0" fill="#F79646" stroke="#FF0000" stroke-width="7.0"/>
<circle cx="331.9" cy="1371.8" r="8.0" fill="#F79646" stroke="#FF0000" stroke-width="7.0"/>
<circle cx="256.9" cy="1382.8" r="8.0" fill="#F79646" stroke="#FF0000" stroke-width="7.0"/>
<circle cx="320.3" cy="1398.9" r="8.0" fill="#F79646" stroke="#FF0000" stroke-width="7.0"/>
<circle cx="343.3" cy="1435.9" r="8.0" fill="#7F7F7F" stroke="#FF0000" stroke-width="7.0"/>
<circle cx="276.7" cy="1450.4" r="8.0" fill="#F79646" stroke="#FF0000" stroke-width="7.0"/>
<circle cx="263.6" cy="1457.0" r="8.0" fill="#F79646" stroke="#FF0000" stroke-width="7.0"/>
<circle cx="287.6" cy="1469.5" r="8.0" fill="#F79646" stroke="#FF0000" stroke-width="7.0"/>
<circle cx="411.7" cy="1441.5" r="8.0" fill="#F79646" stroke="#FF0000" stroke-width="7.0"/>
<circle cx="421.4" cy="1435.1" r="8.0" fill="#F79646" stroke="#FF0000" stroke-width="7.0"/>
<circle cx="462.1" cy="1345.8" r="8.0" fill="#7F7F7F" stroke="#FF0000" stroke-width="7.0"/>
<circle cx="478.2" cy="1425.2" r="8.0" fill="#F79646" stroke="#FF0000" stroke-width="7.0"/>
<circle cx="527.1" cy="1421.4" r="8.0" fill="#9BBB59" stroke="#FF0000" stroke-width="7.0"/>
<path d="M505.2 1632.9L513.2 1640.9L505.2 1648.9L497.2 1640.9Z" fill="#fff" stroke="#7030A0" stroke-width="3.0"/>
<path d="M513.9 1626.0L521.9 1634.0L513.9 1642.0L505.9 1634.0Z" fill="#fff" stroke="#7030A0" stroke-width="3.0"/>
<circle cx="882.7" cy="1288.6" r="7.6" fill="#9BBB59" stroke="#000" stroke-width="1.8"/>
<circle cx="1002.6" cy="1290.2" r="7.6" fill="#9BBB59" stroke="#000" stroke-width="1.8"/>
<circle cx="920.2" cy="1317.6" r="7.6" fill="#9BBB59" stroke="#000" stroke-width="1.8"/>
<circle cx="966.7" cy="1317.6" r="7.6" fill="#9BBB59" stroke="#000" stroke-width="1.8"/>
<circle cx="966.7" cy="1324.2" r="7.6" fill="#9BBB59" stroke="#000" stroke-width="1.8"/>
<circle cx="992.7" cy="1320.7" r="7.6" fill="#9BBB59" stroke="#000" stroke-width="1.8"/>
<circle cx="953.9" cy="1336.4" r="7.6" fill="#9BBB59" stroke="#000" stroke-width="1.8"/>
<circle cx="978.3" cy="1351.7" r="7.6" fill="#9BBB59" stroke="#000" stroke-width="1.8"/>
<circle cx="1004.1" cy="1349.7" r="7.6" fill="#9BBB59" stroke="#000" stroke-width="1.8"/>
<circle cx="984.4" cy="1376.9" r="7.6" fill="#9BBB59" stroke="#000" stroke-width="1.8"/>
<circle cx="946.0" cy="1357.5" r="7.6" fill="#9BBB59" stroke="#000" stroke-width="1.8"/>
<circle cx="946.0" cy="1371.0" r="7.6" fill="#9BBB59" stroke="#000" stroke-width="1.8"/>
<circle cx="946.0" cy="1461.0" r="7.6" fill="#F79646" stroke="#000" stroke-width="1.8"/>
<circle cx="851.9" cy="1381.8" r="7.6" fill="#F79646" stroke="#000" stroke-width="1.8"/>
<circle cx="935.1" cy="1363.9" r="7.6" fill="#F79646" stroke="#000" stroke-width="1.8"/>
<circle cx="926.4" cy="1370.8" r="7.6" fill="#F79646" stroke="#000" stroke-width="1.8"/>
<circle cx="966.7" cy="1367.7" r="7.6" fill="#F79646" stroke="#000" stroke-width="1.8"/>
<circle cx="914.8" cy="1397.9" r="7.6" fill="#F79646" stroke="#000" stroke-width="1.8"/>
<circle cx="926.4" cy="1416.6" r="7.6" fill="#9BBB59" stroke="#000" stroke-width="1.8"/>
<circle cx="926.4" cy="1408.9" r="7.6" fill="#F79646" stroke="#000" stroke-width="1.8"/>
<circle cx="976.3" cy="1394.9" r="7.6" fill="#F79646" stroke="#000" stroke-width="1.8"/>
<circle cx="972.5" cy="1400.5" r="7.6" fill="#F79646" stroke="#000" stroke-width="1.8"/>
<circle cx="985.5" cy="1399.8" r="7.6" fill="#9BBB59" stroke="#000" stroke-width="1.8"/>
<circle cx="984.0" cy="1407.4" r="7.6" fill="#F79646" stroke="#000" stroke-width="1.8"/>
<circle cx="990.1" cy="1408.2" r="7.6" fill="#F79646" stroke="#000" stroke-width="1.8"/>
<circle cx="896.9" cy="1434.9" r="7.6" fill="#F79646" stroke="#000" stroke-width="1.8"/>
<circle cx="871.5" cy="1449.4" r="7.6" fill="#F79646" stroke="#000" stroke-width="1.8"/>
<circle cx="858.5" cy="1456.0" r="7.6" fill="#F79646" stroke="#000" stroke-width="1.8"/>
<circle cx="882.4" cy="1468.5" r="7.6" fill="#F79646" stroke="#000" stroke-width="1.8"/>
<circle cx="986.3" cy="1468.5" r="7.6" fill="#F79646" stroke="#000" stroke-width="1.8"/>
<circle cx="945.8" cy="1344.8" r="7.6" fill="#7F7F7F" stroke="#000" stroke-width="1.8"/>
<circle cx="945.8" cy="1353.0" r="7.6" fill="#7F7F7F" stroke="#000" stroke-width="1.8"/>
<circle cx="945.8" cy="1361.5" r="7.6" fill="#7F7F7F" stroke="#000" stroke-width="1.8"/>
<circle cx="945.8" cy="1374.8" r="7.6" fill="#7F7F7F" stroke="#000" stroke-width="1.8"/>
<circle cx="945.8" cy="1380.7" r="7.6" fill="#7F7F7F" stroke="#000" stroke-width="1.8"/>
<circle cx="945.8" cy="1389.8" r="7.6" fill="#7F7F7F" stroke="#000" stroke-width="1.8"/>
<circle cx="945.8" cy="1402.8" r="7.6" fill="#7F7F7F" stroke="#000" stroke-width="1.8"/>
<circle cx="945.8" cy="1411.9" r="7.6" fill="#7F7F7F" stroke="#000" stroke-width="1.8"/>
<circle cx="945.8" cy="1420.4" r="7.6" fill="#7F7F7F" stroke="#000" stroke-width="1.8"/>
<circle cx="945.8" cy="1433.4" r="7.6" fill="#7F7F7F" stroke="#000" stroke-width="1.8"/>
<circle cx="945.8" cy="1439.5" r="7.6" fill="#7F7F7F" stroke="#000" stroke-width="1.8"/>
<circle cx="945.8" cy="1447.9" r="7.6" fill="#7F7F7F" stroke="#000" stroke-width="1.8"/>
<circle cx="945.8" cy="1460.8" r="7.6" fill="#7F7F7F" stroke="#000" stroke-width="1.8"/>
<circle cx="885.8" cy="1330.3" r="7.6" fill="#7F7F7F" stroke="#000" stroke-width="1.8"/>
<circle cx="885.8" cy="1336.9" r="7.6" fill="#7F7F7F" stroke="#000" stroke-width="1.8"/>
<circle cx="910.2" cy="1325.7" r="7.6" fill="#7F7F7F" stroke="#000" stroke-width="1.8"/>
<circle cx="947.3" cy="1327.3" r="7.6" fill="#7F7F7F" stroke="#000" stroke-width="1.8"/>
<circle cx="961.8" cy="1353.2" r="7.6" fill="#7F7F7F" stroke="#000" stroke-width="1.8"/>
<circle cx="937.7" cy="1434.9" r="7.6" fill="#7F7F7F" stroke="#000" stroke-width="1.8"/>
<circle cx="1055.6" cy="1344.8" r="7.6" fill="#7F7F7F" stroke="#000" stroke-width="1.8"/>
<circle cx="1010.5" cy="1410.5" r="7.6" fill="#F79646" stroke="#000" stroke-width="1.8"/>
<circle cx="1027.3" cy="1421.9" r="7.6" fill="#F79646" stroke="#000" stroke-width="1.8"/>
<circle cx="1053.3" cy="1415.8" r="7.6" fill="#F79646" stroke="#000" stroke-width="1.8"/>
<circle cx="1071.6" cy="1424.2" r="7.6" fill="#F79646" stroke="#000" stroke-width="1.8"/>
<circle cx="1041.1" cy="1417.3" r="7.6" fill="#F79646" stroke="#000" stroke-width="1.8"/>
<circle cx="1068.5" cy="1409.2" r="7.6" fill="#F79646" stroke="#000" stroke-width="1.8"/>
<circle cx="1120.2" cy="1420.4" r="7.6" fill="#9BBB59" stroke="#000" stroke-width="1.8"/>
<circle cx="1002.5" cy="1434.0" r="7.6" fill="#F79646" stroke="#000" stroke-width="1.8"/>
<circle cx="1005.6" cy="1440.5" r="7.6" fill="#F79646" stroke="#000" stroke-width="1.8"/>
<circle cx="999.9" cy="1431.8" r="7.6" fill="#7030A0" stroke="#000" stroke-width="1.8"/>
<circle cx="1015.2" cy="1434.1" r="7.6" fill="#F79646" stroke="#000" stroke-width="1.8"/>
<circle cx="1012.1" cy="1453.9" r="7.6" fill="#7030A0" stroke="#000" stroke-width="1.8"/>
<circle cx="1026.6" cy="1447.8" r="7.6" fill="#7030A0" stroke="#000" stroke-width="1.8"/>
<circle cx="1039.5" cy="1442.5" r="7.6" fill="#F79646" stroke="#000" stroke-width="1.8"/>
<circle cx="1035.0" cy="1455.5" r="7.6" fill="#F79646" stroke="#000" stroke-width="1.8"/>
<circle cx="1035.0" cy="1461.6" r="7.6" fill="#F79646" stroke="#000" stroke-width="1.8"/>
<circle cx="1071.6" cy="1450.9" r="7.6" fill="#F79646" stroke="#000" stroke-width="1.8"/>
<circle cx="1089.6" cy="1439.5" r="7.6" fill="#7F7F7F" stroke="#000" stroke-width="1.8"/>
<circle cx="1068.5" cy="1473.5" r="7.6" fill="#F79646" stroke="#000" stroke-width="1.8"/>
<circle cx="1056.0" cy="1481.1" r="7.6" fill="#F79646" stroke="#000" stroke-width="1.8"/>
<circle cx="1045.3" cy="1483.4" r="7.6" fill="#F79646" stroke="#000" stroke-width="1.8"/>
<circle cx="1046.1" cy="1492.6" r="7.6" fill="#F79646" stroke="#000" stroke-width="1.8"/>
<circle cx="1078.2" cy="1488.0" r="7.6" fill="#F79646" stroke="#000" stroke-width="1.8"/>
<circle cx="1101.8" cy="1482.7" r="7.6" fill="#F79646" stroke="#000" stroke-width="1.8"/>
<circle cx="1111.8" cy="1487.7" r="7.6" fill="#F79646" stroke="#000" stroke-width="1.8"/>
<circle cx="1121.7" cy="1494.1" r="7.6" fill="#F79646" stroke="#000" stroke-width="1.8"/>
<circle cx="1141.5" cy="1473.5" r="7.6" fill="#F79646" stroke="#000" stroke-width="1.8"/>
<circle cx="1140.0" cy="1485.0" r="7.6" fill="#F79646" stroke="#000" stroke-width="1.8"/>
<circle cx="1133.9" cy="1508.6" r="7.6" fill="#F79646" stroke="#000" stroke-width="1.8"/>
<circle cx="1121.7" cy="1509.4" r="7.6" fill="#7030A0" stroke="#000" stroke-width="1.8"/>
<circle cx="1121.7" cy="1520.1" r="7.6" fill="#7030A0" stroke="#000" stroke-width="1.8"/>
<circle cx="1121.7" cy="1535.3" r="7.6" fill="#7030A0" stroke="#000" stroke-width="1.8"/>
<circle cx="1121.7" cy="1543.7" r="7.6" fill="#7030A0" stroke="#000" stroke-width="1.8"/>
<circle cx="1121.7" cy="1552.1" r="7.6" fill="#7030A0" stroke="#000" stroke-width="1.8"/>
<circle cx="1096.2" cy="1550.6" r="7.6" fill="#F79646" stroke="#000" stroke-width="1.8"/>
<circle cx="1188.1" cy="1451.1" r="7.6" fill="#F79646" stroke="#000" stroke-width="1.8"/>
<circle cx="1062.1" cy="1549.1" r="7.6" fill="#7030A0" stroke="#000" stroke-width="1.8"/>
<circle cx="1062.1" cy="1579.6" r="7.6" fill="#7030A0" stroke="#000" stroke-width="1.8"/>
<circle cx="1062.1" cy="1600.2" r="7.6" fill="#7030A0" stroke="#000" stroke-width="1.8"/>
<circle cx="970.2" cy="1480.0" r="7.6" fill="#7F7F7F" stroke="#000" stroke-width="1.8"/>
<circle cx="935.8" cy="1520.2" r="7.6" fill="#F79646" stroke="#000" stroke-width="1.8"/>
<circle cx="823.0" cy="1494.7" r="7.6" fill="#F79646" stroke="#000" stroke-width="1.8"/>
<circle cx="1097.5" cy="1629.3" r="7.6" fill="#7030A0" stroke="#000" stroke-width="1.8"/>
<circle cx="1099.8" cy="1641.2" r="7.6" fill="#7030A0" stroke="#000" stroke-width="1.8"/>
<circle cx="1105.3" cy="1641.7" r="7.6" fill="#7030A0" stroke="#000" stroke-width="1.8"/>
<circle cx="885.8" cy="1330.3" r="8.0" fill="#7F7F7F" stroke="#FF0000" stroke-width="7.0"/>
<circle cx="885.8" cy="1336.9" r="8.0" fill="#7F7F7F" stroke="#FF0000" stroke-width="7.0"/>
<circle cx="910.2" cy="1325.7" r="8.0" fill="#7F7F7F" stroke="#FF0000" stroke-width="7.0"/>
<circle cx="947.3" cy="1327.3" r="8.0" fill="#7F7F7F" stroke="#FF0000" stroke-width="7.0"/>
<circle cx="961.8" cy="1353.2" r="8.0" fill="#7F7F7F" stroke="#FF0000" stroke-width="7.0"/>
<circle cx="937.7" cy="1434.9" r="8.0" fill="#7F7F7F" stroke="#FF0000" stroke-width="7.0"/>
<circle cx="1055.6" cy="1344.8" r="8.0" fill="#7F7F7F" stroke="#FF0000" stroke-width="7.0"/>
<circle cx="1041.1" cy="1417.3" r="8.0" fill="#F79646" stroke="#FF0000" stroke-width="7.0"/>
<circle cx="1068.5" cy="1409.2" r="8.0" fill="#F79646" stroke="#FF0000" stroke-width="7.0"/>
<circle cx="1120.2" cy="1420.4" r="8.0" fill="#9BBB59" stroke="#FF0000" stroke-width="7.0"/>
<circle cx="1005.6" cy="1440.5" r="8.0" fill="#F79646" stroke="#FF0000" stroke-width="7.0"/>
<circle cx="1188.1" cy="1451.1" r="8.0" fill="#F79646" stroke="#FF0000" stroke-width="7.0"/>
<circle cx="1062.1" cy="1549.1" r="8.0" fill="#7030A0" stroke="#FF0000" stroke-width="7.0"/>
<circle cx="1062.1" cy="1579.6" r="8.0" fill="#7030A0" stroke="#FF0000" stroke-width="7.0"/>
<circle cx="1062.1" cy="1600.2" r="8.0" fill="#7030A0" stroke="#FF0000" stroke-width="7.0"/>
<path d="M1098.4 1631.9L1106.4 1639.9L1098.4 1647.9L1090.4 1639.9Z" fill="#fff" stroke="#7030A0" stroke-width="3.0"/>
<path d="M1107.1 1625.0L1115.1 1633.0L1107.1 1641.0L1099.1 1633.0Z" fill="#fff" stroke="#7030A0" stroke-width="3.0"/>
<circle cx="288.2" cy="1894.5" r="7.6" fill="#9BBB59" stroke="#000" stroke-width="1.8"/>
<circle cx="408.2" cy="1896.1" r="7.6" fill="#9BBB59" stroke="#000" stroke-width="1.8"/>
<circle cx="325.8" cy="1923.5" r="7.6" fill="#9BBB59" stroke="#000" stroke-width="1.8"/>
<circle cx="372.3" cy="1923.5" r="7.6" fill="#9BBB59" stroke="#000" stroke-width="1.8"/>
<circle cx="372.3" cy="1930.1" r="7.6" fill="#9BBB59" stroke="#000" stroke-width="1.8"/>
<circle cx="398.3" cy="1926.6" r="7.6" fill="#9BBB59" stroke="#000" stroke-width="1.8"/>
<circle cx="359.5" cy="1942.3" r="7.6" fill="#9BBB59" stroke="#000" stroke-width="1.8"/>
<circle cx="383.9" cy="1957.6" r="7.6" fill="#9BBB59" stroke="#000" stroke-width="1.8"/>
<circle cx="409.7" cy="1955.6" r="7.6" fill="#9BBB59" stroke="#000" stroke-width="1.8"/>
<circle cx="390.0" cy="1982.8" r="7.6" fill="#9BBB59" stroke="#000" stroke-width="1.8"/>
<circle cx="351.6" cy="1963.4" r="7.6" fill="#9BBB59" stroke="#000" stroke-width="1.8"/>
<circle cx="351.6" cy="1976.9" r="7.6" fill="#9BBB59" stroke="#000" stroke-width="1.8"/>
<circle cx="351.6" cy="2066.9" r="7.6" fill="#F79646" stroke="#000" stroke-width="1.8"/>
<circle cx="257.4" cy="1987.7" r="7.6" fill="#F79646" stroke="#000" stroke-width="1.8"/>
<circle cx="340.7" cy="1969.8" r="7.6" fill="#F79646" stroke="#000" stroke-width="1.8"/>
<circle cx="332.0" cy="1976.7" r="7.6" fill="#F79646" stroke="#000" stroke-width="1.8"/>
<circle cx="372.3" cy="1973.6" r="7.6" fill="#F79646" stroke="#000" stroke-width="1.8"/>
<circle cx="320.4" cy="2003.8" r="7.6" fill="#F79646" stroke="#000" stroke-width="1.8"/>
<circle cx="332.0" cy="2022.5" r="7.6" fill="#9BBB59" stroke="#000" stroke-width="1.8"/>
<circle cx="332.0" cy="2014.8" r="7.6" fill="#F79646" stroke="#000" stroke-width="1.8"/>
<circle cx="381.9" cy="2000.8" r="7.6" fill="#F79646" stroke="#000" stroke-width="1.8"/>
<circle cx="378.1" cy="2006.4" r="7.6" fill="#F79646" stroke="#000" stroke-width="1.8"/>
<circle cx="391.1" cy="2005.7" r="7.6" fill="#9BBB59" stroke="#000" stroke-width="1.8"/>
<circle cx="389.6" cy="2013.3" r="7.6" fill="#F79646" stroke="#000" stroke-width="1.8"/>
<circle cx="395.7" cy="2014.1" r="7.6" fill="#F79646" stroke="#000" stroke-width="1.8"/>
<circle cx="302.4" cy="2040.8" r="7.6" fill="#F79646" stroke="#000" stroke-width="1.8"/>
<circle cx="277.0" cy="2055.3" r="7.6" fill="#F79646" stroke="#000" stroke-width="1.8"/>
<circle cx="264.0" cy="2061.9" r="7.6" fill="#F79646" stroke="#000" stroke-width="1.8"/>
<circle cx="287.9" cy="2074.4" r="7.6" fill="#F79646" stroke="#000" stroke-width="1.8"/>
<circle cx="391.9" cy="2074.4" r="7.6" fill="#F79646" stroke="#000" stroke-width="1.8"/>
<circle cx="351.4" cy="1950.7" r="7.6" fill="#7F7F7F" stroke="#000" stroke-width="1.8"/>
<circle cx="351.4" cy="1958.9" r="7.6" fill="#7F7F7F" stroke="#000" stroke-width="1.8"/>
<circle cx="351.4" cy="1967.4" r="7.6" fill="#7F7F7F" stroke="#000" stroke-width="1.8"/>
<circle cx="351.4" cy="1980.7" r="7.6" fill="#7F7F7F" stroke="#000" stroke-width="1.8"/>
<circle cx="351.4" cy="1986.6" r="7.6" fill="#7F7F7F" stroke="#000" stroke-width="1.8"/>
<circle cx="351.4" cy="1995.7" r="7.6" fill="#7F7F7F" stroke="#000" stroke-width="1.8"/>
<circle cx="351.4" cy="2008.7" r="7.6" fill="#7F7F7F" stroke="#000" stroke-width="1.8"/>
<circle cx="351.4" cy="2017.8" r="7.6" fill="#7F7F7F" stroke="#000" stroke-width="1.8"/>
<circle cx="351.4" cy="2026.3" r="7.6" fill="#7F7F7F" stroke="#000" stroke-width="1.8"/>
<circle cx="351.4" cy="2039.3" r="7.6" fill="#7F7F7F" stroke="#000" stroke-width="1.8"/>
<circle cx="351.4" cy="2045.4" r="7.6" fill="#7F7F7F" stroke="#000" stroke-width="1.8"/>
<circle cx="351.4" cy="2053.8" r="7.6" fill="#7F7F7F" stroke="#000" stroke-width="1.8"/>
<circle cx="351.4" cy="2066.7" r="7.6" fill="#7F7F7F" stroke="#000" stroke-width="1.8"/>
<circle cx="291.3" cy="1936.2" r="7.6" fill="#7F7F7F" stroke="#000" stroke-width="1.8"/>
<circle cx="291.3" cy="1942.8" r="7.6" fill="#7F7F7F" stroke="#000" stroke-width="1.8"/>
<circle cx="315.8" cy="1931.6" r="7.6" fill="#7F7F7F" stroke="#000" stroke-width="1.8"/>
<circle cx="352.9" cy="1933.2" r="7.6" fill="#7F7F7F" stroke="#000" stroke-width="1.8"/>
<circle cx="367.4" cy="1959.1" r="7.6" fill="#7F7F7F" stroke="#000" stroke-width="1.8"/>
<circle cx="343.3" cy="2040.8" r="7.6" fill="#7F7F7F" stroke="#000" stroke-width="1.8"/>
<circle cx="461.3" cy="1950.7" r="7.6" fill="#7F7F7F" stroke="#000" stroke-width="1.8"/>
<circle cx="416.1" cy="2016.4" r="7.6" fill="#F79646" stroke="#000" stroke-width="1.8"/>
<circle cx="433.0" cy="2027.8" r="7.6" fill="#F79646" stroke="#000" stroke-width="1.8"/>
<circle cx="459.0" cy="2021.7" r="7.6" fill="#F79646" stroke="#000" stroke-width="1.8"/>
<circle cx="477.3" cy="2030.1" r="7.6" fill="#F79646" stroke="#000" stroke-width="1.8"/>
<circle cx="446.8" cy="2023.2" r="7.6" fill="#F79646" stroke="#000" stroke-width="1.8"/>
<circle cx="474.2" cy="2015.1" r="7.6" fill="#F79646" stroke="#000" stroke-width="1.8"/>
<circle cx="525.9" cy="2026.3" r="7.6" fill="#9BBB59" stroke="#000" stroke-width="1.8"/>
<circle cx="408.1" cy="2039.9" r="7.6" fill="#F79646" stroke="#000" stroke-width="1.8"/>
<circle cx="411.2" cy="2046.4" r="7.6" fill="#F79646" stroke="#000" stroke-width="1.8"/>
<circle cx="405.5" cy="2037.7" r="7.6" fill="#7030A0" stroke="#000" stroke-width="1.8"/>
<circle cx="420.8" cy="2040.0" r="7.6" fill="#F79646" stroke="#000" stroke-width="1.8"/>
<circle cx="417.7" cy="2059.8" r="7.6" fill="#7030A0" stroke="#000" stroke-width="1.8"/>
<circle cx="432.3" cy="2053.7" r="7.6" fill="#7030A0" stroke="#000" stroke-width="1.8"/>
<circle cx="445.2" cy="2048.4" r="7.6" fill="#F79646" stroke="#000" stroke-width="1.8"/>
<circle cx="440.7" cy="2061.4" r="7.6" fill="#F79646" stroke="#000" stroke-width="1.8"/>
<circle cx="440.7" cy="2067.5" r="7.6" fill="#F79646" stroke="#000" stroke-width="1.8"/>
<circle cx="477.3" cy="2056.8" r="7.6" fill="#F79646" stroke="#000" stroke-width="1.8"/>
<circle cx="495.3" cy="2045.4" r="7.6" fill="#7F7F7F" stroke="#000" stroke-width="1.8"/>
<circle cx="474.2" cy="2079.4" r="7.6" fill="#F79646" stroke="#000" stroke-width="1.8"/>
<circle cx="461.7" cy="2087.0" r="7.6" fill="#F79646" stroke="#000" stroke-width="1.8"/>
<circle cx="451.0" cy="2089.3" r="7.6" fill="#F79646" stroke="#000" stroke-width="1.8"/>
<circle cx="451.8" cy="2098.5" r="7.6" fill="#F79646" stroke="#000" stroke-width="1.8"/>
<circle cx="483.9" cy="2093.9" r="7.6" fill="#F79646" stroke="#000" stroke-width="1.8"/>
<circle cx="507.5" cy="2088.6" r="7.6" fill="#F79646" stroke="#000" stroke-width="1.8"/>
<circle cx="517.5" cy="2093.6" r="7.6" fill="#F79646" stroke="#000" stroke-width="1.8"/>
<circle cx="527.4" cy="2100.0" r="7.6" fill="#F79646" stroke="#000" stroke-width="1.8"/>
<circle cx="547.2" cy="2079.4" r="7.6" fill="#F79646" stroke="#000" stroke-width="1.8"/>
<circle cx="545.7" cy="2090.9" r="7.6" fill="#F79646" stroke="#000" stroke-width="1.8"/>
<circle cx="539.6" cy="2114.5" r="7.6" fill="#F79646" stroke="#000" stroke-width="1.8"/>
<circle cx="527.4" cy="2115.3" r="7.6" fill="#7030A0" stroke="#000" stroke-width="1.8"/>
<circle cx="527.4" cy="2126.0" r="7.6" fill="#7030A0" stroke="#000" stroke-width="1.8"/>
<circle cx="527.4" cy="2141.2" r="7.6" fill="#7030A0" stroke="#000" stroke-width="1.8"/>
<circle cx="527.4" cy="2149.6" r="7.6" fill="#7030A0" stroke="#000" stroke-width="1.8"/>
<circle cx="527.4" cy="2158.0" r="7.6" fill="#7030A0" stroke="#000" stroke-width="1.8"/>
<circle cx="501.9" cy="2156.5" r="7.6" fill="#F79646" stroke="#000" stroke-width="1.8"/>
<circle cx="593.9" cy="2057.0" r="7.6" fill="#F79646" stroke="#000" stroke-width="1.8"/>
<circle cx="467.8" cy="2155.0" r="7.6" fill="#7030A0" stroke="#000" stroke-width="1.8"/>
<circle cx="467.8" cy="2185.5" r="7.6" fill="#7030A0" stroke="#000" stroke-width="1.8"/>
<circle cx="467.8" cy="2206.1" r="7.6" fill="#7030A0" stroke="#000" stroke-width="1.8"/>
<circle cx="375.8" cy="2085.9" r="7.6" fill="#7F7F7F" stroke="#000" stroke-width="1.8"/>
<circle cx="341.4" cy="2126.1" r="7.6" fill="#F79646" stroke="#000" stroke-width="1.8"/>
<circle cx="228.5" cy="2100.6" r="7.6" fill="#F79646" stroke="#000" stroke-width="1.8"/>
<circle cx="503.2" cy="2235.2" r="7.6" fill="#7030A0" stroke="#000" stroke-width="1.8"/>
<circle cx="505.5" cy="2247.1" r="7.6" fill="#7030A0" stroke="#000" stroke-width="1.8"/>
<circle cx="511.0" cy="2247.6" r="7.6" fill="#7030A0" stroke="#000" stroke-width="1.8"/>
<circle cx="291.3" cy="1936.2" r="8.0" fill="#7F7F7F" stroke="#FF0000" stroke-width="7.0"/>
<circle cx="291.3" cy="1942.8" r="8.0" fill="#7F7F7F" stroke="#FF0000" stroke-width="7.0"/>
<circle cx="315.8" cy="1931.6" r="8.0" fill="#7F7F7F" stroke="#FF0000" stroke-width="7.0"/>
<circle cx="352.9" cy="1933.2" r="8.0" fill="#7F7F7F" stroke="#FF0000" stroke-width="7.0"/>
<circle cx="367.4" cy="1959.1" r="8.0" fill="#7F7F7F" stroke="#FF0000" stroke-width="7.0"/>
<circle cx="372.3" cy="1973.6" r="8.0" fill="#F79646" stroke="#FF0000" stroke-width="7.0"/>
<circle cx="381.9" cy="2000.8" r="8.0" fill="#F79646" stroke="#FF0000" stroke-width="7.0"/>
<circle cx="461.3" cy="1950.7" r="8.0" fill="#7F7F7F" stroke="#FF0000" stroke-width="7.0"/>
<circle cx="416.1" cy="2016.4" r="8.0" fill="#F79646" stroke="#FF0000" stroke-width="7.0"/>
<circle cx="446.8" cy="2023.2" r="8.0" fill="#F79646" stroke="#FF0000" stroke-width="7.0"/>
<circle cx="474.2" cy="2015.1" r="8.0" fill="#F79646" stroke="#FF0000" stroke-width="7.0"/>
<circle cx="408.1" cy="2039.9" r="8.0" fill="#F79646" stroke="#FF0000" stroke-width="7.0"/>
<circle cx="302.4" cy="2040.8" r="8.0" fill="#F79646" stroke="#FF0000" stroke-width="7.0"/>
<circle cx="343.3" cy="2040.8" r="8.0" fill="#7F7F7F" stroke="#FF0000" stroke-width="7.0"/>
<circle cx="341.4" cy="2126.1" r="8.0" fill="#F79646" stroke="#FF0000" stroke-width="7.0"/>
<circle cx="467.8" cy="2155.0" r="8.0" fill="#7030A0" stroke="#FF0000" stroke-width="7.0"/>
<circle cx="467.8" cy="2185.5" r="8.0" fill="#7030A0" stroke="#FF0000" stroke-width="7.0"/>
<circle cx="467.8" cy="2206.1" r="8.0" fill="#7030A0" stroke="#FF0000" stroke-width="7.0"/>
<path d="M504.1 2237.8L512.1 2245.8L504.1 2253.8L496.1 2245.8Z" fill="#fff" stroke="#7030A0" stroke-width="3.0"/>
<path d="M512.8 2230.9L520.8 2238.9L512.8 2246.9L504.8 2238.9Z" fill="#fff" stroke="#7030A0" stroke-width="3.0"/>
<circle cx="563.3" cy="2068.5" r="7.6" fill="#9BBB59" stroke="#000" stroke-width="1.8"/>
<circle cx="882.0" cy="1895.1" r="7.6" fill="#9BBB59" stroke="#000" stroke-width="1.8"/>
<circle cx="1001.6" cy="1896.7" r="7.6" fill="#9BBB59" stroke="#000" stroke-width="1.8"/>
<circle cx="919.4" cy="1924.1" r="7.6" fill="#9BBB59" stroke="#000" stroke-width="1.8"/>
<circle cx="965.8" cy="1924.1" r="7.6" fill="#9BBB59" stroke="#000" stroke-width="1.8"/>
<circle cx="965.8" cy="1930.7" r="7.6" fill="#9BBB59" stroke="#000" stroke-width="1.8"/>
<circle cx="991.7" cy="1927.2" r="7.6" fill="#9BBB59" stroke="#000" stroke-width="1.8"/>
<circle cx="953.0" cy="1942.9" r="7.6" fill="#9BBB59" stroke="#000" stroke-width="1.8"/>
<circle cx="977.4" cy="1958.2" r="7.6" fill="#9BBB59" stroke="#000" stroke-width="1.8"/>
<circle cx="1003.1" cy="1956.2" r="7.6" fill="#9BBB59" stroke="#000" stroke-width="1.8"/>
<circle cx="983.5" cy="1983.4" r="7.6" fill="#9BBB59" stroke="#000" stroke-width="1.8"/>
<circle cx="945.2" cy="1964.0" r="7.6" fill="#9BBB59" stroke="#000" stroke-width="1.8"/>
<circle cx="945.2" cy="1977.5" r="7.6" fill="#9BBB59" stroke="#000" stroke-width="1.8"/>
<circle cx="945.2" cy="2067.5" r="7.6" fill="#F79646" stroke="#000" stroke-width="1.8"/>
<circle cx="851.3" cy="1988.3" r="7.6" fill="#F79646" stroke="#000" stroke-width="1.8"/>
<circle cx="934.3" cy="1970.4" r="7.6" fill="#F79646" stroke="#000" stroke-width="1.8"/>
<circle cx="925.6" cy="1977.3" r="7.6" fill="#F79646" stroke="#000" stroke-width="1.8"/>
<circle cx="965.8" cy="1974.2" r="7.6" fill="#F79646" stroke="#000" stroke-width="1.8"/>
<circle cx="914.0" cy="2004.4" r="7.6" fill="#F79646" stroke="#000" stroke-width="1.8"/>
<circle cx="925.6" cy="2023.1" r="7.6" fill="#9BBB59" stroke="#000" stroke-width="1.8"/>
<circle cx="925.6" cy="2015.4" r="7.6" fill="#F79646" stroke="#000" stroke-width="1.8"/>
<circle cx="975.4" cy="2001.4" r="7.6" fill="#F79646" stroke="#000" stroke-width="1.8"/>
<circle cx="971.6" cy="2007.0" r="7.6" fill="#F79646" stroke="#000" stroke-width="1.8"/>
<circle cx="984.6" cy="2006.3" r="7.6" fill="#9BBB59" stroke="#000" stroke-width="1.8"/>
<circle cx="983.1" cy="2013.9" r="7.6" fill="#F79646" stroke="#000" stroke-width="1.8"/>
<circle cx="989.1" cy="2014.7" r="7.6" fill="#F79646" stroke="#000" stroke-width="1.8"/>
<circle cx="896.2" cy="2041.4" r="7.6" fill="#F79646" stroke="#000" stroke-width="1.8"/>
<circle cx="870.9" cy="2055.9" r="7.6" fill="#F79646" stroke="#000" stroke-width="1.8"/>
<circle cx="857.9" cy="2062.5" r="7.6" fill="#F79646" stroke="#000" stroke-width="1.8"/>
<circle cx="881.7" cy="2075.0" r="7.6" fill="#F79646" stroke="#000" stroke-width="1.8"/>
<circle cx="985.4" cy="2075.0" r="7.6" fill="#F79646" stroke="#000" stroke-width="1.8"/>
<circle cx="945.0" cy="1951.3" r="7.6" fill="#7F7F7F" stroke="#000" stroke-width="1.8"/>
<circle cx="945.0" cy="1959.5" r="7.6" fill="#7F7F7F" stroke="#000" stroke-width="1.8"/>
<circle cx="945.0" cy="1968.0" r="7.6" fill="#7F7F7F" stroke="#000" stroke-width="1.8"/>
<circle cx="945.0" cy="1981.3" r="7.6" fill="#7F7F7F" stroke="#000" stroke-width="1.8"/>
<circle cx="945.0" cy="1987.2" r="7.6" fill="#7F7F7F" stroke="#000" stroke-width="1.8"/>
<circle cx="945.0" cy="1996.3" r="7.6" fill="#7F7F7F" stroke="#000" stroke-width="1.8"/>
<circle cx="945.0" cy="2009.3" r="7.6" fill="#7F7F7F" stroke="#000" stroke-width="1.8"/>
<circle cx="945.0" cy="2018.4" r="7.6" fill="#7F7F7F" stroke="#000" stroke-width="1.8"/>
<circle cx="945.0" cy="2026.9" r="7.6" fill="#7F7F7F" stroke="#000" stroke-width="1.8"/>
<circle cx="945.0" cy="2039.9" r="7.6" fill="#7F7F7F" stroke="#000" stroke-width="1.8"/>
<circle cx="945.0" cy="2046.0" r="7.6" fill="#7F7F7F" stroke="#000" stroke-width="1.8"/>
<circle cx="945.0" cy="2054.4" r="7.6" fill="#7F7F7F" stroke="#000" stroke-width="1.8"/>
<circle cx="945.0" cy="2067.3" r="7.6" fill="#7F7F7F" stroke="#000" stroke-width="1.8"/>
<circle cx="885.1" cy="1936.8" r="7.6" fill="#7F7F7F" stroke="#000" stroke-width="1.8"/>
<circle cx="885.1" cy="1943.4" r="7.6" fill="#7F7F7F" stroke="#000" stroke-width="1.8"/>
<circle cx="909.5" cy="1932.2" r="7.6" fill="#7F7F7F" stroke="#000" stroke-width="1.8"/>
<circle cx="946.5" cy="1933.8" r="7.6" fill="#7F7F7F" stroke="#000" stroke-width="1.8"/>
<circle cx="960.9" cy="1959.7" r="7.6" fill="#7F7F7F" stroke="#000" stroke-width="1.8"/>
<circle cx="936.9" cy="2041.4" r="7.6" fill="#7F7F7F" stroke="#000" stroke-width="1.8"/>
<circle cx="1054.5" cy="1951.3" r="7.6" fill="#7F7F7F" stroke="#000" stroke-width="1.8"/>
<circle cx="1009.5" cy="2017.0" r="7.6" fill="#F79646" stroke="#000" stroke-width="1.8"/>
<circle cx="1026.2" cy="2028.4" r="7.6" fill="#F79646" stroke="#000" stroke-width="1.8"/>
<circle cx="1052.2" cy="2022.3" r="7.6" fill="#F79646" stroke="#000" stroke-width="1.8"/>
<circle cx="1070.4" cy="2030.7" r="7.6" fill="#F79646" stroke="#000" stroke-width="1.8"/>
<circle cx="1040.0" cy="2023.8" r="7.6" fill="#F79646" stroke="#000" stroke-width="1.8"/>
<circle cx="1067.3" cy="2015.7" r="7.6" fill="#F79646" stroke="#000" stroke-width="1.8"/>
<circle cx="1118.9" cy="2026.9" r="7.6" fill="#9BBB59" stroke="#000" stroke-width="1.8"/>
<circle cx="1001.5" cy="2040.5" r="7.6" fill="#F79646" stroke="#000" stroke-width="1.8"/>
<circle cx="1004.6" cy="2047.0" r="7.6" fill="#F79646" stroke="#000" stroke-width="1.8"/>
<circle cx="998.9" cy="2038.3" r="7.6" fill="#7030A0" stroke="#000" stroke-width="1.8"/>
<circle cx="1014.2" cy="2040.6" r="7.6" fill="#F79646" stroke="#000" stroke-width="1.8"/>
<circle cx="1011.1" cy="2060.4" r="7.6" fill="#7030A0" stroke="#000" stroke-width="1.8"/>
<circle cx="1025.5" cy="2054.3" r="7.6" fill="#7030A0" stroke="#000" stroke-width="1.8"/>
<circle cx="1038.4" cy="2049.0" r="7.6" fill="#F79646" stroke="#000" stroke-width="1.8"/>
<circle cx="1033.9" cy="2062.0" r="7.6" fill="#F79646" stroke="#000" stroke-width="1.8"/>
<circle cx="1033.9" cy="2068.1" r="7.6" fill="#F79646" stroke="#000" stroke-width="1.8"/>
<circle cx="1070.4" cy="2057.4" r="7.6" fill="#F79646" stroke="#000" stroke-width="1.8"/>
<circle cx="1088.4" cy="2046.0" r="7.6" fill="#7F7F7F" stroke="#000" stroke-width="1.8"/>
<circle cx="1067.3" cy="2080.0" r="7.6" fill="#F79646" stroke="#000" stroke-width="1.8"/>
<circle cx="1054.9" cy="2087.6" r="7.6" fill="#F79646" stroke="#000" stroke-width="1.8"/>
<circle cx="1044.2" cy="2089.9" r="7.6" fill="#F79646" stroke="#000" stroke-width="1.8"/>
<circle cx="1045.0" cy="2099.1" r="7.6" fill="#F79646" stroke="#000" stroke-width="1.8"/>
<circle cx="1077.0" cy="2094.5" r="7.6" fill="#F79646" stroke="#000" stroke-width="1.8"/>
<circle cx="1100.5" cy="2089.2" r="7.6" fill="#F79646" stroke="#000" stroke-width="1.8"/>
<circle cx="1110.5" cy="2094.2" r="7.6" fill="#F79646" stroke="#000" stroke-width="1.8"/>
<circle cx="1120.4" cy="2100.6" r="7.6" fill="#F79646" stroke="#000" stroke-width="1.8"/>
<circle cx="1140.1" cy="2080.0" r="7.6" fill="#F79646" stroke="#000" stroke-width="1.8"/>
<circle cx="1138.6" cy="2091.5" r="7.6" fill="#F79646" stroke="#000" stroke-width="1.8"/>
<circle cx="1132.5" cy="2115.1" r="7.6" fill="#F79646" stroke="#000" stroke-width="1.8"/>
<circle cx="1120.4" cy="2115.9" r="7.6" fill="#7030A0" stroke="#000" stroke-width="1.8"/>
<circle cx="1120.4" cy="2126.6" r="7.6" fill="#7030A0" stroke="#000" stroke-width="1.8"/>
<circle cx="1120.4" cy="2141.8" r="7.6" fill="#7030A0" stroke="#000" stroke-width="1.8"/>
<circle cx="1120.4" cy="2150.2" r="7.6" fill="#7030A0" stroke="#000" stroke-width="1.8"/>
<circle cx="1120.4" cy="2158.6" r="7.6" fill="#7030A0" stroke="#000" stroke-width="1.8"/>
<circle cx="1094.9" cy="2157.1" r="7.6" fill="#F79646" stroke="#000" stroke-width="1.8"/>
<circle cx="1186.6" cy="2057.6" r="7.6" fill="#F79646" stroke="#000" stroke-width="1.8"/>
<circle cx="1060.9" cy="2155.6" r="7.6" fill="#7030A0" stroke="#000" stroke-width="1.8"/>
<circle cx="1060.9" cy="2186.1" r="7.6" fill="#7030A0" stroke="#000" stroke-width="1.8"/>
<circle cx="1060.9" cy="2206.7" r="7.6" fill="#7030A0" stroke="#000" stroke-width="1.8"/>
<circle cx="969.3" cy="2086.5" r="7.6" fill="#7F7F7F" stroke="#000" stroke-width="1.8"/>
<circle cx="935.0" cy="2126.7" r="7.6" fill="#F79646" stroke="#000" stroke-width="1.8"/>
<circle cx="822.5" cy="2101.2" r="7.6" fill="#F79646" stroke="#000" stroke-width="1.8"/>
<circle cx="1096.2" cy="2235.8" r="7.6" fill="#7030A0" stroke="#000" stroke-width="1.8"/>
<circle cx="1098.5" cy="2247.7" r="7.6" fill="#7030A0" stroke="#000" stroke-width="1.8"/>
<circle cx="1104.0" cy="2248.2" r="7.6" fill="#7030A0" stroke="#000" stroke-width="1.8"/>
<circle cx="1001.6" cy="1896.7" r="8.0" fill="#9BBB59" stroke="#FF0000" stroke-width="7.0"/>
<circle cx="919.4" cy="1924.1" r="8.0" fill="#9BBB59" stroke="#FF0000" stroke-width="7.0"/>
<circle cx="965.8" cy="1924.1" r="8.0" fill="#9BBB59" stroke="#FF0000" stroke-width="7.0"/>
<circle cx="965.8" cy="1930.7" r="8.0" fill="#9BBB59" stroke="#FF0000" stroke-width="7.0"/>
<circle cx="991.7" cy="1927.2" r="8.0" fill="#9BBB59" stroke="#FF0000" stroke-width="7.0"/>
<circle cx="953.0" cy="1942.9" r="8.0" fill="#9BBB59" stroke="#FF0000" stroke-width="7.0"/>
<circle cx="977.4" cy="1958.2" r="8.0" fill="#9BBB59" stroke="#FF0000" stroke-width="7.0"/>
<circle cx="1003.1" cy="1956.2" r="8.0" fill="#9BBB59" stroke="#FF0000" stroke-width="7.0"/>
<circle cx="945.2" cy="1964.0" r="8.0" fill="#9BBB59" stroke="#FF0000" stroke-width="7.0"/>
<circle cx="945.2" cy="1977.5" r="8.0" fill="#9BBB59" stroke="#FF0000" stroke-width="7.0"/>
<circle cx="983.5" cy="1983.4" r="8.0" fill="#9BBB59" stroke="#FF0000" stroke-width="7.0"/>
<circle cx="971.6" cy="2007.0" r="8.0" fill="#F79646" stroke="#FF0000" stroke-width="7.0"/>
<circle cx="983.1" cy="2013.9" r="8.0" fill="#F79646" stroke="#FF0000" stroke-width="7.0"/>
<circle cx="925.6" cy="2023.1" r="8.0" fill="#9BBB59" stroke="#FF0000" stroke-width="7.0"/>
<circle cx="925.6" cy="2015.4" r="8.0" fill="#F79646" stroke="#FF0000" stroke-width="7.0"/>
<circle cx="1026.2" cy="2028.4" r="8.0" fill="#F79646" stroke="#FF0000" stroke-width="7.0"/>
<circle cx="1040.0" cy="2023.8" r="8.0" fill="#F79646" stroke="#FF0000" stroke-width="7.0"/>
<circle cx="945.2" cy="2067.5" r="8.0" fill="#F79646" stroke="#FF0000" stroke-width="7.0"/>
<circle cx="985.4" cy="2075.0" r="8.0" fill="#F79646" stroke="#FF0000" stroke-width="7.0"/>
<circle cx="1052.2" cy="2022.3" r="8.0" fill="#F79646" stroke="#FF0000" stroke-width="7.0"/>
<circle cx="1067.3" cy="2015.7" r="8.0" fill="#F79646" stroke="#FF0000" stroke-width="7.0"/>
<circle cx="1070.4" cy="2057.4" r="8.0" fill="#F79646" stroke="#FF0000" stroke-width="7.0"/>
<circle cx="1067.3" cy="2080.0" r="8.0" fill="#F79646" stroke="#FF0000" stroke-width="7.0"/>
<circle cx="1045.0" cy="2099.1" r="8.0" fill="#F79646" stroke="#FF0000" stroke-width="7.0"/>
<circle cx="1100.5" cy="2089.2" r="8.0" fill="#F79646" stroke="#FF0000" stroke-width="7.0"/>
<circle cx="1138.6" cy="2091.5" r="8.0" fill="#F79646" stroke="#FF0000" stroke-width="7.0"/>
<circle cx="1132.5" cy="2115.1" r="8.0" fill="#F79646" stroke="#FF0000" stroke-width="7.0"/>
<circle cx="1120.4" cy="2115.9" r="8.0" fill="#7030A0" stroke="#FF0000" stroke-width="7.0"/>
<circle cx="1120.4" cy="2126.6" r="8.0" fill="#7030A0" stroke="#FF0000" stroke-width="7.0"/>
<circle cx="1120.4" cy="2141.8" r="8.0" fill="#7030A0" stroke="#FF0000" stroke-width="7.0"/>
<circle cx="1120.4" cy="2150.2" r="8.0" fill="#7030A0" stroke="#FF0000" stroke-width="7.0"/>
<circle cx="1120.4" cy="2158.6" r="8.0" fill="#7030A0" stroke="#FF0000" stroke-width="7.0"/>
<circle cx="1094.9" cy="2157.1" r="8.0" fill="#F79646" stroke="#FF0000" stroke-width="7.0"/>
<circle cx="1186.6" cy="2057.6" r="8.0" fill="#F79646" stroke="#FF0000" stroke-width="7.0"/>
<circle cx="822.5" cy="2101.2" r="8.0" fill="#F79646" stroke="#FF0000" stroke-width="7.0"/>
<circle cx="1096.2" cy="2235.8" r="8.0" fill="#7030A0" stroke="#FF0000" stroke-width="7.0"/>
<circle cx="1098.5" cy="2247.7" r="8.0" fill="#7030A0" stroke="#FF0000" stroke-width="7.0"/>
<path d="M1097.1 2238.4L1105.1 2246.4L1097.1 2254.4L1089.1 2246.4Z" fill="#fff" stroke="#7030A0" stroke-width="3.0"/>
<path d="M1105.8 2231.5L1113.8 2239.5L1105.8 2247.5L1097.8 2239.5Z" fill="#fff" stroke="#7030A0" stroke-width="3.0"/>
</svg>
</body></html>
